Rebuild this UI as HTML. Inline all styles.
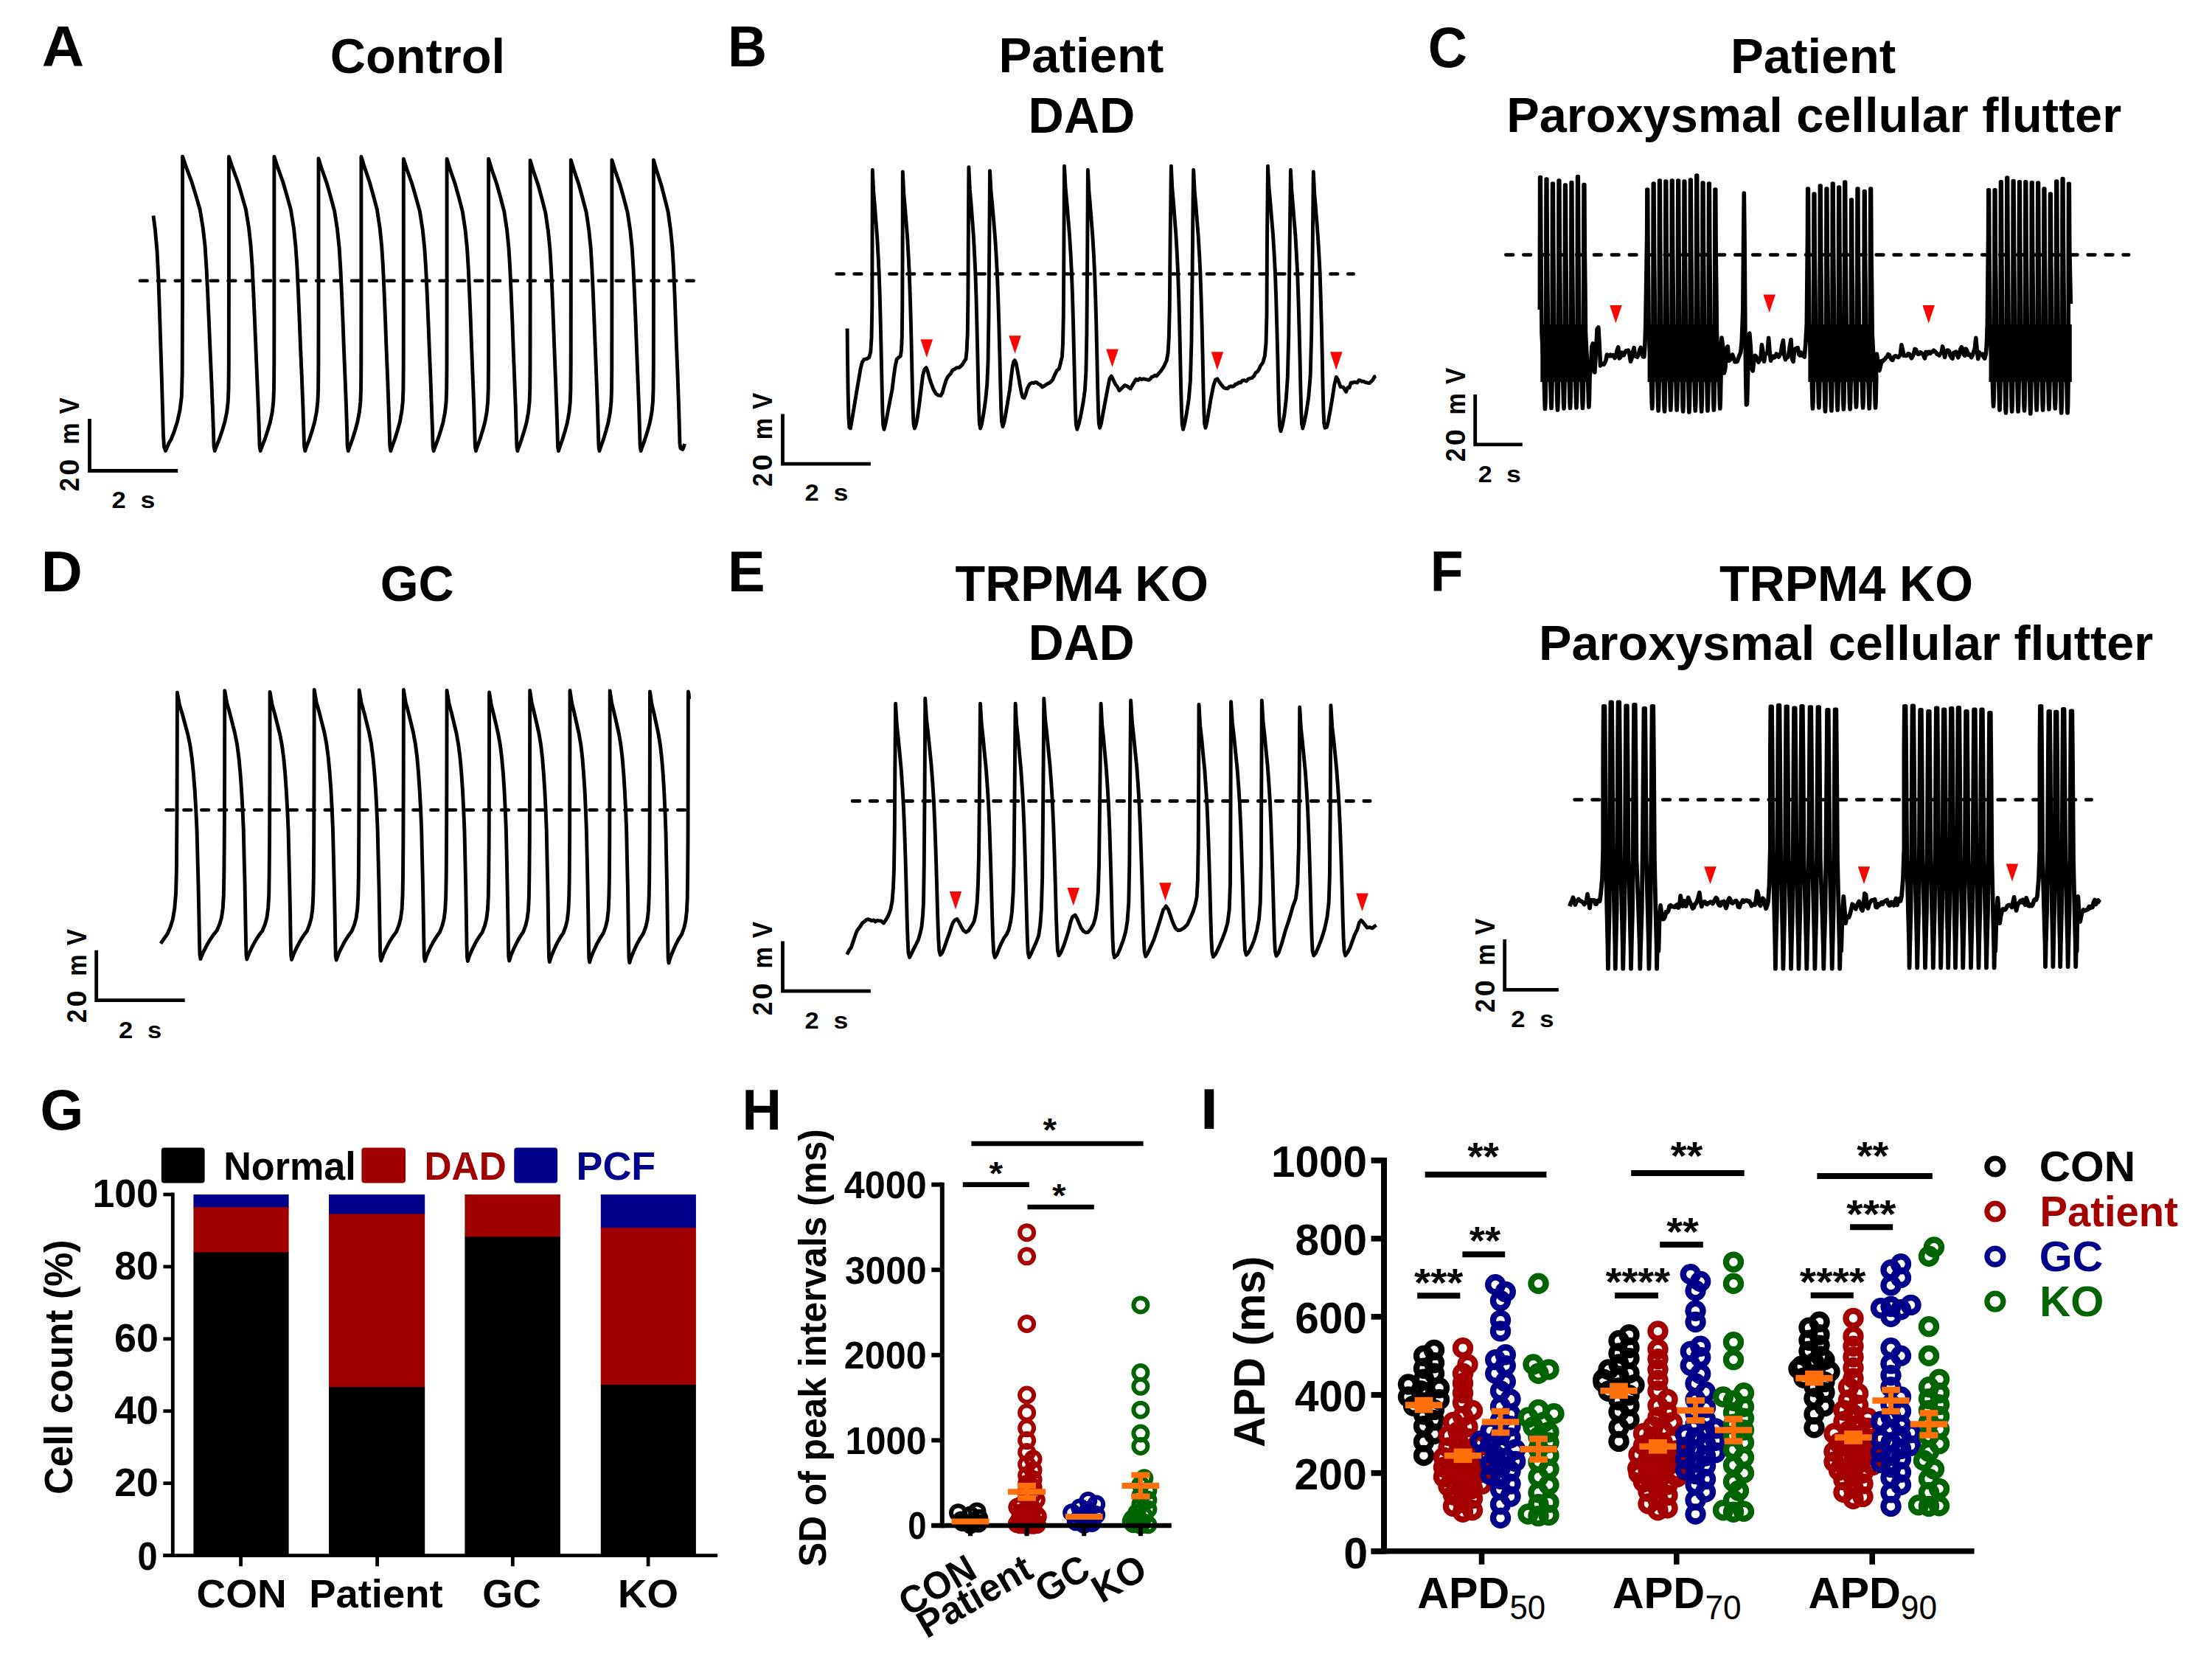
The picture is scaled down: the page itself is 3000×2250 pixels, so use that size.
<!DOCTYPE html>
<html><head><meta charset="utf-8"><title>Figure</title>
<style>
html,body{margin:0;padding:0;background:#fff;}
body{width:3000px;height:2250px;overflow:hidden;}
svg{display:block;font-family:"Liberation Sans",sans-serif;}
</style></head>
<body>
<svg width="3000" height="2250" viewBox="0 0 3000 2250">
<rect x="0" y="0" width="3000" height="2250" fill="#fff"/>
<path d="M208.0 292.5 L210.5 312.0 L213.0 340.0 L215.0 380.0 L217.0 440.0 L219.5 520.0 L221.5 590.0 L222.5 606.0 L224.5 611.5 L226.5 607.0 L229.0 601.0 L232.0 596.0 L236.0 586.0 L240.5 572.0 L244.0 556.0 L246.3 538.0 L247.2 505.0 L247.5 400.0 L247.6 212.3 L247.6 212.3 L252.3 226.2 L260.1 246.9 L265.6 264.9 L271.2 284.2 L275.3 309.2 L278.1 334.1 L279.9 361.8 L281.6 395.1 L283.3 433.8 L284.9 472.6 L286.6 511.3 L288.2 550.1 L289.4 583.2 L290.1 605.4 L291.3 611.5 L292.5 607.8 L294.6 602.7 L297.4 595.7 L301.6 583.2 L304.9 572.2 L307.7 558.4 L309.3 544.5 L310.0 527.9 L310.3 494.6 L310.4 412.0 L310.4 212.5 L310.4 212.5 L315.0 226.4 L322.6 247.0 L328.0 265.1 L333.5 284.4 L337.5 309.3 L340.2 334.3 L342.1 361.9 L343.7 395.2 L345.4 433.9 L347.0 472.6 L348.6 511.4 L350.2 550.1 L351.4 583.2 L352.1 605.4 L353.2 611.5 L354.4 607.8 L356.5 602.7 L359.2 595.7 L363.3 583.2 L366.5 572.3 L369.3 558.4 L370.8 544.5 L371.5 527.9 L371.8 494.7 L371.9 412.1 L371.9 212.5 L371.9 212.5 L376.4 226.4 L383.8 247.0 L389.1 265.1 L394.4 284.4 L398.4 309.3 L401.0 334.3 L402.9 361.9 L404.5 395.2 L406.1 433.9 L407.6 472.6 L409.3 511.4 L410.8 550.1 L411.9 583.2 L412.6 605.4 L413.8 611.5 L414.9 607.8 L416.9 602.7 L419.6 595.7 L423.6 583.2 L426.7 572.3 L429.4 558.4 L430.9 544.5 L431.6 527.9 L431.9 494.7 L432.0 412.1 L432.0 215.0 L432.0 215.0 L436.3 228.8 L443.5 249.3 L448.6 267.3 L453.7 286.4 L457.5 311.2 L460.1 336.0 L461.8 363.5 L463.4 396.5 L465.0 435.0 L466.4 473.5 L468.0 512.0 L469.5 550.5 L470.6 583.4 L471.2 605.4 L472.3 611.5 L473.4 607.8 L475.4 602.8 L477.9 595.8 L481.8 583.4 L484.8 572.5 L487.4 558.7 L488.9 544.9 L489.5 528.5 L489.8 495.4 L489.9 413.4 L489.9 212.5 L489.9 212.5 L494.2 226.4 L501.3 247.0 L506.3 265.1 L511.4 284.4 L515.2 309.3 L517.7 334.3 L519.5 361.9 L521.0 395.2 L522.6 433.9 L524.0 472.6 L525.6 511.4 L527.0 550.1 L528.1 583.2 L528.8 605.4 L529.9 611.5 L531.0 607.8 L532.9 602.7 L535.4 595.7 L539.3 583.2 L542.3 572.3 L544.8 558.4 L546.3 544.5 L546.9 527.9 L547.2 494.7 L547.3 412.1 L547.3 215.5 L547.3 215.5 L551.7 229.3 L559.0 249.8 L564.1 267.7 L569.4 286.8 L573.2 311.6 L575.8 336.4 L577.6 363.8 L579.2 396.8 L580.8 435.2 L582.3 473.7 L583.9 512.1 L585.3 550.6 L586.5 583.5 L587.1 605.5 L588.2 611.5 L589.4 607.8 L591.3 602.8 L593.9 595.8 L597.9 583.5 L601.0 572.6 L603.6 558.8 L605.1 545.0 L605.7 528.6 L606.0 495.6 L606.1 413.6 L606.1 215.5 L606.1 215.5 L610.3 229.3 L617.3 249.8 L622.3 267.7 L627.3 286.8 L631.0 311.6 L633.5 336.4 L635.2 363.8 L636.7 396.8 L638.3 435.2 L639.7 473.7 L641.2 512.1 L642.7 550.6 L643.7 583.5 L644.4 605.5 L645.4 611.5 L646.5 607.8 L648.4 602.8 L650.9 595.8 L654.7 583.5 L657.7 572.6 L660.2 558.8 L661.6 545.0 L662.2 528.6 L662.5 495.6 L662.6 413.6 L662.6 215.5 L662.6 215.5 L666.8 229.3 L673.8 249.8 L678.8 267.7 L683.8 286.8 L687.5 311.6 L690.0 336.4 L691.7 363.8 L693.2 396.8 L694.8 435.2 L696.2 473.7 L697.7 512.1 L699.2 550.6 L700.2 583.5 L700.9 605.5 L701.9 611.5 L703.0 607.8 L704.9 602.8 L707.4 595.8 L711.2 583.5 L714.2 572.6 L716.7 558.8 L718.1 545.0 L718.7 528.6 L719.0 495.6 L719.1 413.6 L719.1 217.5 L719.1 217.5 L723.2 231.2 L730.1 251.6 L734.9 269.4 L739.8 288.5 L743.4 313.1 L745.9 337.8 L747.5 365.1 L749.0 397.9 L750.5 436.1 L751.9 474.4 L753.4 512.6 L754.8 550.9 L755.9 583.6 L756.5 605.5 L757.5 611.5 L758.6 607.9 L760.4 602.8 L762.9 595.9 L766.6 583.6 L769.5 572.8 L771.9 559.1 L773.3 545.4 L773.9 529.0 L774.2 496.2 L774.3 414.6 L774.3 217.0 L774.3 217.0 L778.5 230.7 L785.3 251.1 L790.2 269.0 L795.2 288.1 L798.8 312.7 L801.3 337.4 L802.9 364.8 L804.4 397.6 L805.9 435.9 L807.4 474.2 L808.9 512.5 L810.3 550.8 L811.3 583.6 L812.0 605.5 L813.0 611.5 L814.1 607.8 L815.9 602.8 L818.4 595.9 L822.1 583.6 L825.0 572.7 L827.5 559.0 L828.9 545.3 L829.5 528.9 L829.8 496.0 L829.9 414.4 L829.9 217.0 L829.9 217.0 L834.1 230.7 L841.1 251.1 L846.1 269.0 L851.1 288.1 L854.8 312.7 L857.3 337.4 L859.0 364.8 L860.5 397.6 L862.1 435.9 L863.5 474.2 L865.0 512.5 L866.5 550.8 L867.5 583.6 L868.2 605.5 L869.2 611.5 L870.3 607.8 L872.2 602.8 L874.7 595.9 L878.5 583.6 L881.5 572.7 L884.0 559.0 L885.4 545.3 L886.0 528.9 L886.3 496.0 L886.4 414.4 L886.4 217.0 L886.4 217.0 L890.3 230.6 L896.8 250.8 L901.4 268.6 L906.1 287.4 L909.5 311.9 L911.9 336.3 L913.5 363.4 L914.9 396.0 L916.3 434.0 L917.6 471.9 L919.1 509.9 L920.4 547.8 L921.4 580.3 L922.0 602.0 L923.0 608.0 L926.0 609.5 L928.0 604.0 L928.5 602.0" fill="none" stroke="#000" stroke-width="4.9" stroke-linejoin="round" stroke-linecap="butt" />
<line x1="189.9" y1="380.7" x2="940.7" y2="380.7" stroke="#000" stroke-width="4.6" stroke-dasharray="9.8 14.12" stroke-linecap="round"/>
<path d="M121.5 568.1 L121.5 638.5 L241.2 638.5" fill="none" stroke="#000" stroke-width="4.8" stroke-linejoin="miter" stroke-linecap="butt" />
<path d="M1149.1 445.6 L1149.4 478.5 L1150.1 529.1 L1150.9 564.6 L1151.9 579.7 L1153.4 581.0 L1155.4 569.6 L1158.0 554.4 L1161.3 534.2 L1164.3 516.5 L1167.1 500.0 L1169.4 491.1 L1171.9 487.3 L1175.7 486.6 L1178.7 484.8 L1180.8 477.2 L1182.0 458.2 L1182.8 415.2 L1183.0 326.6 L1183.3 230.4 L1184.7 259.9 L1186.3 277.9 L1188.0 300.8 L1189.6 321.2 L1191.0 346.5 L1192.2 371.1 L1193.3 402.8 L1194.3 441.5 L1195.3 485.5 L1196.2 527.0 L1196.9 557.6 L1197.7 575.9 L1199.0 582.3 L1201.0 574.7 L1203.5 562.0 L1207.3 541.8 L1209.9 529.1 L1212.4 508.9 L1214.2 496.2 L1216.2 487.3 L1218.7 484.8 L1221.3 483.0 L1222.5 474.7 L1223.3 458.2 L1223.8 415.2 L1224.1 326.6 L1224.3 232.9 L1225.7 262.2 L1227.3 279.9 L1229.1 302.5 L1230.7 322.7 L1232.1 347.8 L1233.3 372.2 L1234.4 403.5 L1235.5 441.8 L1236.5 485.3 L1237.4 526.4 L1238.2 556.6 L1239.0 574.7 L1240.3 581.0 L1242.3 575.9 L1244.1 567.1 L1246.6 549.4 L1249.1 529.1 L1251.6 508.9 L1253.7 501.3 L1256.2 498.7 L1258.2 503.8 L1260.5 512.7 L1263.0 520.1 L1265.6 527.2 L1269.4 534.0 L1272.7 536.1 L1275.7 536.7 L1278.2 532.4 L1280.8 523.2 L1283.3 515.2 L1285.8 510.5 L1289.1 507.1 L1292.2 501.5 L1294.7 500.8 L1297.2 498.9 L1301.0 498.3 L1304.8 494.9 L1307.8 489.9 L1309.9 487.3 L1311.1 475.9 L1312.2 453.2 L1312.9 402.5 L1313.4 301.3 L1313.9 226.6 L1315.3 256.4 L1316.9 274.4 L1318.6 297.5 L1320.2 318.0 L1321.6 343.5 L1322.8 368.4 L1323.9 400.3 L1324.9 439.2 L1325.9 483.5 L1326.8 525.4 L1327.6 556.2 L1328.4 574.6 L1329.6 581.0 L1331.6 574.7 L1334.2 559.5 L1336.7 541.8 L1338.7 521.5 L1340.0 491.1 L1341.0 427.8 L1341.8 326.6 L1342.5 231.6 L1344.1 260.8 L1345.9 278.5 L1347.8 301.0 L1349.5 321.1 L1351.1 346.1 L1352.4 370.4 L1353.6 401.6 L1354.8 439.7 L1355.9 483.1 L1356.9 524.0 L1357.7 554.2 L1358.6 572.2 L1360.0 578.5 L1362.0 572.2 L1364.3 559.5 L1366.8 544.3 L1369.4 529.1 L1371.4 511.4 L1373.2 497.5 L1374.7 490.6 L1376.2 488.6 L1378.0 492.4 L1379.5 500.0 L1381.3 510.1 L1383.3 522.0 L1385.3 532.9 L1387.1 538.7 L1388.9 539.7 L1390.9 535.4 L1393.4 526.6 L1396.5 520.9 L1399.7 519.0 L1401.9 519.6 L1404.0 518.5 L1406.1 518.7 L1408.6 521.1 L1411.1 522.1 L1413.7 525.0 L1416.2 523.4 L1418.7 521.8 L1421.3 520.2 L1423.8 519.0 L1427.6 515.3 L1430.1 509.2 L1433.4 502.7 L1436.5 500.0 L1439.0 489.7 L1440.5 483.5 L1441.5 465.8 L1442.3 427.8 L1442.8 351.9 L1443.5 225.3 L1445.1 255.3 L1446.8 273.5 L1448.7 296.7 L1450.4 317.4 L1452.0 343.1 L1453.3 368.1 L1454.5 400.2 L1455.6 439.5 L1456.7 484.1 L1457.7 526.2 L1458.5 557.3 L1459.4 575.9 L1460.8 582.3 L1463.3 574.7 L1465.8 563.3 L1468.9 546.8 L1471.4 529.1 L1472.9 503.8 L1473.9 453.2 L1474.7 351.9 L1475.4 230.4 L1476.9 259.8 L1478.5 277.6 L1480.3 300.4 L1481.9 320.6 L1483.4 345.8 L1484.6 370.3 L1485.7 401.8 L1486.8 440.3 L1487.8 484.0 L1488.7 525.3 L1489.5 555.8 L1490.3 574.0 L1491.6 580.3 L1493.4 574.7 L1495.7 562.0 L1499.0 544.3 L1502.3 526.6 L1504.8 513.9 L1507.3 510.1 L1509.9 515.2 L1512.9 521.5 L1515.4 524.5 L1518.0 529.7 L1521.8 525.9 L1525.6 522.6 L1529.4 524.3 L1533.2 527.0 L1537.0 520.4 L1540.8 514.3 L1543.3 515.7 L1545.8 513.5 L1548.4 514.5 L1550.9 513.8 L1553.4 514.3 L1555.9 515.0 L1558.1 515.4 L1560.2 513.8 L1562.3 511.1 L1564.4 510.7 L1566.5 509.0 L1568.6 510.0 L1571.4 506.7 L1574.2 503.5 L1576.5 500.2 L1578.7 496.5 L1582.3 488.8 L1584.1 478.5 L1585.3 458.2 L1586.3 415.2 L1587.1 326.6 L1588.4 225.3 L1589.8 255.3 L1591.4 273.5 L1593.2 296.7 L1594.8 317.4 L1596.3 343.1 L1597.5 368.1 L1598.6 400.2 L1599.7 439.5 L1600.7 484.1 L1601.6 526.2 L1602.5 557.3 L1603.3 575.9 L1604.6 582.3 L1606.6 574.7 L1609.1 562.0 L1612.2 541.8 L1614.4 516.5 L1615.9 465.8 L1617.0 377.2 L1618.0 275.9 L1618.7 230.4 L1620.2 259.8 L1621.8 277.6 L1623.6 300.4 L1625.2 320.6 L1626.7 345.8 L1627.9 370.3 L1629.0 401.8 L1630.1 440.3 L1631.1 484.0 L1632.0 525.3 L1632.8 555.8 L1633.6 574.0 L1634.9 580.3 L1637.0 572.2 L1639.5 557.0 L1642.5 539.2 L1645.8 522.8 L1648.4 515.2 L1650.9 513.9 L1653.4 517.7 L1657.2 522.8 L1659.7 525.7 L1662.3 526.6 L1664.8 527.1 L1667.3 524.6 L1669.5 523.7 L1671.6 524.4 L1673.7 523.3 L1675.8 520.9 L1677.9 520.8 L1680.0 518.7 L1682.5 519.0 L1685.1 516.1 L1687.6 515.6 L1690.1 516.9 L1692.7 514.3 L1695.2 513.2 L1698.0 512.6 L1700.8 509.8 L1703.0 505.5 L1705.3 504.0 L1707.3 501.2 L1709.4 496.4 L1712.9 491.6 L1715.4 482.3 L1717.0 465.8 L1718.0 427.8 L1718.5 326.6 L1719.5 225.3 L1721.1 255.5 L1722.8 273.8 L1724.7 297.2 L1726.5 318.1 L1728.1 343.9 L1729.4 369.1 L1730.6 401.5 L1731.7 441.0 L1732.9 485.9 L1733.8 528.4 L1734.7 559.6 L1735.6 578.3 L1737.0 584.8 L1739.2 577.2 L1741.8 563.3 L1744.3 541.8 L1746.3 511.4 L1747.8 453.2 L1748.9 351.9 L1750.4 230.4 L1751.9 259.8 L1753.5 277.7 L1755.3 300.5 L1757.0 320.8 L1758.4 346.1 L1759.7 370.6 L1760.8 402.2 L1761.9 440.8 L1763.0 484.6 L1763.9 526.0 L1764.7 556.5 L1765.5 574.7 L1766.8 581.0 L1769.1 572.2 L1771.6 559.5 L1774.7 539.2 L1777.2 508.9 L1778.7 453.2 L1780.0 351.9 L1781.3 232.9 L1782.7 262.1 L1784.2 279.8 L1786.0 302.4 L1787.5 322.5 L1789.0 347.5 L1790.2 371.8 L1791.2 403.1 L1792.3 441.3 L1793.3 484.7 L1794.1 525.7 L1794.9 555.9 L1795.7 574.0 L1797.0 580.3 L1799.5 579.2 L1801.5 570.9 L1804.1 557.0 L1807.1 539.2 L1809.6 522.8 L1812.2 511.4 L1814.7 515.2 L1818.0 524.6 L1821.8 525.1 L1825.6 531.3 L1827.7 525.8 L1829.9 526.0 L1832.2 519.0 L1834.4 519.2 L1836.5 518.2 L1838.6 518.6 L1840.8 519.0 L1842.9 515.8 L1845.0 516.0 L1847.1 517.3 L1849.4 517.1 L1851.6 518.5 L1854.7 519.2 L1857.2 519.5 L1859.7 517.4 L1861.9 515.2 L1864.0 511.0 L1866.1 510.1" fill="none" stroke="#000" stroke-width="4.9" stroke-linejoin="round" stroke-linecap="butt" />
<line x1="1134.6" y1="371.5" x2="1835.7" y2="371.5" stroke="#000" stroke-width="4.6" stroke-dasharray="9.8 14.12" stroke-linecap="round"/>
<path d="M1061.5 561.5 L1061.5 629.2 L1180.9 629.2" fill="none" stroke="#000" stroke-width="4.8" stroke-linejoin="miter" stroke-linecap="butt" />
<path d="M1248.5 460.3 L1265.0 460.3 L1256.8 484.9 Z" fill="#fa0500"/>
<path d="M1368.3 455.2 L1384.8 455.2 L1376.6 479.8 Z" fill="#fa0500"/>
<path d="M1500.2 473.4 L1516.8 473.4 L1508.5 498.0 Z" fill="#fa0500"/>
<path d="M1642.7 477.2 L1659.2 477.2 L1650.9 501.8 Z" fill="#fa0500"/>
<path d="M1804.0 477.2 L1820.5 477.2 L1812.2 501.8 Z" fill="#fa0500"/>
<rect x="2089.30" y="440.00" width="63.00" height="78.00" fill="#000"/>
<rect x="2234.60" y="440.00" width="95.57" height="78.00" fill="#000"/>
<rect x="2452.40" y="440.00" width="88.60" height="78.00" fill="#000"/>
<rect x="2697.50" y="440.00" width="112.31" height="78.00" fill="#000"/>
<path d="M2088.3 420.0 L2088.6 240.5 L2089.3 240.5 L2089.8 330.5 L2090.4 392.0 L2091.0 452.0 L2093.1 491.0 L2094.4 522.0 L2095.1 548.5 L2095.5 554.5 L2096.0 544.5 L2096.7 510.0 L2096.9 303.0 L2097.1 243.0 L2097.8 243.0 L2098.3 333.0 L2098.9 392.0 L2099.5 452.0 L2101.6 491.0 L2102.9 522.0 L2103.6 547.5 L2104.0 553.5 L2104.5 543.5 L2105.2 510.0 L2105.4 309.0 L2105.6 249.0 L2106.3 249.0 L2106.8 339.0 L2107.4 392.0 L2108.0 452.0 L2110.1 491.0 L2111.4 522.0 L2112.1 550.0 L2112.5 556.0 L2113.0 546.0 L2113.7 510.0 L2113.9 305.0 L2114.1 245.0 L2114.8 245.0 L2115.3 335.0 L2115.9 392.0 L2116.5 452.0 L2118.6 491.0 L2119.9 522.0 L2120.6 548.0 L2121.0 554.0 L2121.5 544.0 L2122.2 510.0 L2122.4 311.0 L2122.6 251.0 L2123.3 251.0 L2123.8 341.0 L2124.4 392.0 L2125.0 452.0 L2127.1 491.0 L2128.4 522.0 L2129.1 547.5 L2129.5 553.5 L2130.0 543.5 L2130.7 510.0 L2130.9 307.5 L2131.1 247.5 L2131.8 247.5 L2132.3 337.5 L2132.9 392.0 L2133.5 452.0 L2135.6 491.0 L2136.9 522.0 L2137.6 547.0 L2138.0 553.0 L2138.5 543.0 L2139.2 510.0 L2139.4 299.5 L2139.6 239.5 L2140.3 239.5 L2140.8 329.5 L2141.4 392.0 L2142.0 452.0 L2144.1 491.0 L2145.4 522.0 L2146.1 547.5 L2146.5 553.5 L2147.0 543.5 L2147.7 510.0 L2147.9 310.5 L2148.1 250.5 L2148.8 250.5 L2149.3 340.5 L2149.9 392.0 L2150.5 452.0 L2152.5 491.0 L2153.8 522.0 L2154.5 546.0 L2154.9 552.0 L2155.4 542.0 L2156.1 510.0 L2157.5 500.0 L2158.8 470.0 L2160.3 466.0 L2161.8 500.0 L2162.8 505.0 L2164.3 480.0 L2166.1 446.0 L2167.8 444.0 L2169.3 470.0 L2170.6 496.0 L2171.8 493.7 L2173.3 493.2 L2174.9 494.3 L2176.4 492.1 L2177.9 488.8 L2179.4 481.0 L2181.0 482.2 L2182.5 482.8 L2184.0 481.3 L2185.5 482.9 L2187.1 481.6 L2188.6 481.5 L2190.1 485.5 L2191.6 482.7 L2193.2 475.2 L2194.7 470.9 L2196.2 485.9 L2197.7 484.6 L2199.3 478.2 L2200.8 478.5 L2202.3 481.8 L2203.9 477.6 L2205.4 475.7 L2206.9 476.5 L2208.4 475.1 L2210.0 481.1 L2211.5 490.2 L2213.0 486.1 L2214.5 477.1 L2216.1 471.7 L2217.6 483.1 L2219.1 482.0 L2220.6 484.3 L2222.2 481.1 L2223.7 474.7 L2225.2 471.3 L2226.7 478.2 L2228.3 483.8 L2229.8 483.9 L2230.8 470.0 L2231.8 440.0 L2233.7 317.0 L2233.9 257.0 L2234.6 257.0 L2235.1 347.0 L2235.7 392.0 L2236.3 452.0 L2238.3 491.0 L2239.6 522.0 L2240.3 548.0 L2240.7 554.0 L2241.2 544.0 L2241.9 510.0 L2242.1 309.0 L2242.3 249.0 L2243.0 249.0 L2243.5 339.0 L2244.1 392.0 L2244.7 452.0 L2246.7 491.0 L2248.0 522.0 L2248.7 551.0 L2249.1 557.0 L2249.6 547.0 L2250.3 510.0 L2250.4 305.0 L2250.6 245.0 L2251.3 245.0 L2251.8 335.0 L2252.4 392.0 L2253.0 452.0 L2255.0 491.0 L2256.4 522.0 L2257.0 552.0 L2257.5 558.0 L2258.0 548.0 L2258.6 510.0 L2258.8 306.0 L2259.0 246.0 L2259.7 246.0 L2260.2 336.0 L2260.8 392.0 L2261.4 452.0 L2263.4 491.0 L2264.7 522.0 L2265.4 550.0 L2265.8 556.0 L2266.3 546.0 L2267.0 510.0 L2267.2 305.0 L2267.4 245.0 L2268.1 245.0 L2268.6 335.0 L2269.2 392.0 L2269.8 452.0 L2271.8 491.0 L2273.1 522.0 L2273.8 550.0 L2274.2 556.0 L2274.7 546.0 L2275.4 510.0 L2275.6 305.0 L2275.8 245.0 L2276.5 245.0 L2277.0 335.0 L2277.6 392.0 L2278.2 452.0 L2280.1 491.0 L2281.5 522.0 L2282.1 552.0 L2282.6 558.0 L2283.1 548.0 L2283.7 510.0 L2283.9 306.0 L2284.1 246.0 L2284.8 246.0 L2285.3 336.0 L2285.9 392.0 L2286.5 452.0 L2288.5 491.0 L2289.8 522.0 L2290.5 553.0 L2290.9 559.0 L2291.4 549.0 L2292.1 510.0 L2292.3 304.0 L2292.5 244.0 L2293.2 244.0 L2293.7 334.0 L2294.3 392.0 L2294.9 452.0 L2296.9 491.0 L2298.2 522.0 L2298.9 551.0 L2299.3 557.0 L2299.8 547.0 L2300.5 510.0 L2300.7 298.0 L2300.9 238.0 L2301.6 238.0 L2302.1 328.0 L2302.7 392.0 L2303.3 452.0 L2305.2 491.0 L2306.6 522.0 L2307.3 552.0 L2307.7 558.0 L2308.2 548.0 L2308.8 510.0 L2309.0 308.0 L2309.2 248.0 L2309.9 248.0 L2310.4 338.0 L2311.0 392.0 L2311.6 452.0 L2313.6 491.0 L2315.0 522.0 L2315.6 551.0 L2316.0 557.0 L2316.5 547.0 L2317.2 510.0 L2317.4 309.0 L2317.6 249.0 L2318.3 249.0 L2318.8 339.0 L2319.4 392.0 L2320.0 452.0 L2322.0 491.0 L2323.3 522.0 L2324.0 550.0 L2324.4 556.0 L2324.9 546.0 L2325.6 510.0 L2325.8 317.0 L2326.0 257.0 L2326.7 257.0 L2327.2 347.0 L2327.8 392.0 L2328.4 452.0 L2330.4 491.0 L2331.7 522.0 L2332.4 548.0 L2332.8 554.0 L2333.3 544.0 L2334.0 510.0 L2333.8 480.0 L2335.1 458.0 L2336.6 470.0 L2338.3 506.0 L2339.8 500.0 L2341.8 472.0 L2343.3 470.0 L2344.8 489.2 L2346.4 488.0 L2348.0 485.8 L2349.6 481.0 L2351.2 485.0 L2352.9 490.7 L2354.5 490.8 L2356.1 490.2 L2357.7 485.8 L2359.3 481.3 L2360.8 478.0 L2362.3 462.0 L2363.8 420.0 L2364.6 330.0 L2365.3 262.0 L2366.1 330.0 L2366.9 450.0 L2367.8 520.0 L2368.5 549.0 L2369.5 548.0 L2370.5 510.0 L2371.5 470.0 L2372.8 452.0 L2374.3 470.0 L2375.8 500.0 L2377.3 503.0 L2378.8 488.0 L2380.3 482.3 L2381.8 483.4 L2383.3 487.6 L2384.9 491.2 L2386.4 488.2 L2387.9 486.7 L2389.4 467.6 L2391.0 477.1 L2392.5 490.3 L2394.0 480.6 L2395.5 479.7 L2397.1 479.3 L2398.6 458.3 L2400.1 476.4 L2401.6 489.3 L2403.1 484.1 L2404.7 483.2 L2406.2 485.1 L2407.7 483.3 L2409.2 480.0 L2410.8 482.4 L2412.3 484.1 L2413.8 481.6 L2415.3 478.5 L2416.8 469.2 L2418.4 461.8 L2419.9 481.3 L2421.4 487.7 L2422.9 484.9 L2424.5 484.8 L2426.0 479.8 L2427.5 469.0 L2429.0 460.8 L2430.6 486.9 L2432.1 490.4 L2433.6 474.9 L2435.1 473.0 L2436.6 472.1 L2438.2 471.7 L2439.7 480.5 L2441.2 482.0 L2442.7 478.1 L2444.3 481.9 L2445.8 482.9 L2447.3 484.1 L2448.8 466.0 L2450.3 440.0 L2451.5 316.0 L2451.7 256.0 L2452.4 256.0 L2452.9 346.0 L2453.5 392.0 L2454.1 452.0 L2456.1 491.0 L2457.4 522.0 L2458.1 548.0 L2458.5 554.0 L2459.0 544.0 L2459.7 510.0 L2459.9 323.0 L2460.1 263.0 L2460.8 263.0 L2461.3 353.0 L2461.9 392.0 L2462.5 452.0 L2464.5 491.0 L2465.8 522.0 L2466.4 547.0 L2466.9 553.0 L2467.4 543.0 L2468.0 510.0 L2468.2 312.0 L2468.4 252.0 L2469.1 252.0 L2469.6 342.0 L2470.2 392.0 L2470.8 452.0 L2473.0 491.0 L2474.3 522.0 L2475.0 552.0 L2475.5 558.0 L2476.0 548.0 L2476.7 510.0 L2476.9 316.0 L2477.1 256.0 L2477.8 256.0 L2478.3 346.0 L2478.9 392.0 L2479.5 452.0 L2481.5 491.0 L2482.8 522.0 L2483.4 551.0 L2483.9 557.0 L2484.4 547.0 L2485.0 510.0 L2485.2 309.0 L2485.4 249.0 L2486.1 249.0 L2486.6 339.0 L2487.2 392.0 L2487.8 452.0 L2489.8 491.0 L2491.1 522.0 L2491.8 550.0 L2492.2 556.0 L2492.7 546.0 L2493.4 510.0 L2493.6 314.0 L2493.8 254.0 L2494.5 254.0 L2495.0 344.0 L2495.6 392.0 L2496.2 452.0 L2498.1 491.0 L2499.3 522.0 L2500.0 549.0 L2500.4 555.0 L2500.9 545.0 L2501.5 510.0 L2501.7 307.0 L2501.9 247.0 L2502.6 247.0 L2503.1 337.0 L2503.7 392.0 L2504.3 452.0 L2506.5 491.0 L2507.9 522.0 L2508.6 549.0 L2509.1 555.0 L2509.6 545.0 L2510.3 510.0 L2510.5 331.0 L2510.7 271.0 L2511.4 271.0 L2511.9 361.0 L2512.5 392.0 L2513.1 452.0 L2515.1 491.0 L2516.4 522.0 L2517.1 546.0 L2517.5 552.0 L2518.0 542.0 L2518.7 510.0 L2518.9 316.0 L2519.1 256.0 L2519.8 256.0 L2520.3 346.0 L2520.9 392.0 L2521.5 452.0 L2524.0 491.0 L2525.4 522.0 L2526.2 547.0 L2526.6 553.0 L2527.2 543.0 L2527.9 510.0 L2528.2 319.5 L2528.4 259.5 L2529.1 259.5 L2529.6 349.5 L2530.2 392.0 L2530.8 452.0 L2532.8 491.0 L2534.1 522.0 L2534.8 548.0 L2535.2 554.0 L2535.7 544.0 L2536.4 510.0 L2536.6 316.0 L2536.8 256.0 L2537.5 256.0 L2538.0 346.0 L2538.6 392.0 L2539.2 452.0 L2541.2 491.0 L2542.5 522.0 L2543.2 547.0 L2543.6 553.0 L2544.1 543.0 L2544.8 510.0 L2543.8 500.0 L2545.3 480.0 L2547.3 492.0 L2548.8 502.7 L2550.3 497.5 L2551.8 489.7 L2553.3 490.1 L2554.8 487.9 L2556.3 487.5 L2557.8 484.8 L2559.3 483.9 L2560.8 480.5 L2562.3 481.6 L2563.9 485.2 L2565.4 487.8 L2566.9 488.3 L2568.4 484.4 L2569.9 483.0 L2571.4 482.9 L2572.9 483.8 L2574.4 484.7 L2575.9 483.0 L2577.4 480.4 L2578.9 467.9 L2580.4 474.2 L2581.9 482.3 L2583.4 481.8 L2584.9 482.7 L2586.4 482.2 L2587.9 479.8 L2589.4 480.0 L2590.9 482.6 L2592.5 485.7 L2594.0 483.2 L2595.5 479.8 L2597.0 473.4 L2598.5 474.0 L2600.0 478.7 L2601.5 480.5 L2603.0 479.9 L2604.5 477.7 L2606.0 478.8 L2607.5 480.1 L2609.0 482.4 L2610.5 486.0 L2612.0 477.4 L2613.5 480.7 L2615.0 477.4 L2616.5 477.3 L2618.0 479.2 L2619.5 477.2 L2621.1 477.1 L2622.6 475.2 L2624.1 476.4 L2625.6 477.8 L2627.1 480.3 L2628.6 480.9 L2630.1 482.0 L2631.6 479.5 L2633.1 478.5 L2634.6 469.9 L2636.1 476.6 L2637.6 484.5 L2639.1 477.2 L2640.6 475.3 L2642.1 475.1 L2643.6 476.4 L2645.1 482.5 L2646.6 485.2 L2648.1 486.2 L2649.6 478.4 L2651.2 478.2 L2652.7 477.2 L2654.2 480.9 L2655.7 484.8 L2657.2 481.5 L2658.7 473.9 L2660.2 470.8 L2661.7 472.5 L2663.2 480.7 L2664.7 482.4 L2666.2 473.2 L2667.7 475.4 L2669.2 481.3 L2670.7 480.2 L2672.2 482.5 L2673.7 484.7 L2675.2 481.9 L2676.7 477.4 L2678.2 473.1 L2679.8 458.4 L2681.3 475.9 L2682.8 486.8 L2684.3 477.7 L2685.8 480.6 L2687.3 481.5 L2688.8 480.1 L2690.3 484.3 L2691.8 486.1 L2693.3 480.6 L2694.3 468.0 L2695.3 440.0 L2696.6 317.7 L2696.8 257.7 L2697.5 257.7 L2698.0 347.7 L2698.6 392.0 L2699.2 452.0 L2701.2 491.0 L2702.5 522.0 L2703.2 545.0 L2703.6 551.0 L2704.1 541.0 L2704.8 510.0 L2705.0 317.7 L2705.2 257.7 L2705.9 257.7 L2706.4 347.7 L2707.0 392.0 L2707.6 452.0 L2709.6 491.0 L2710.9 522.0 L2711.6 550.0 L2712.0 556.0 L2712.5 546.0 L2713.2 510.0 L2713.3 306.8 L2713.5 246.8 L2714.2 246.8 L2714.7 336.8 L2715.3 392.0 L2715.9 452.0 L2717.9 491.0 L2719.3 522.0 L2719.9 554.0 L2720.4 560.0 L2720.9 550.0 L2721.5 510.0 L2721.7 301.0 L2721.9 241.0 L2722.6 241.0 L2723.1 331.0 L2723.7 392.0 L2724.3 452.0 L2726.3 491.0 L2727.6 522.0 L2728.3 552.0 L2728.7 558.0 L2729.2 548.0 L2729.9 510.0 L2730.1 305.6 L2730.3 245.6 L2731.0 245.6 L2731.5 335.6 L2732.1 392.0 L2732.7 452.0 L2734.7 491.0 L2736.0 522.0 L2736.7 552.0 L2737.1 558.0 L2737.6 548.0 L2738.3 510.0 L2738.4 306.8 L2738.7 246.8 L2739.3 246.8 L2739.8 336.8 L2740.4 392.0 L2741.0 452.0 L2743.0 491.0 L2744.4 522.0 L2745.0 551.0 L2745.5 557.0 L2746.0 547.0 L2746.6 510.0 L2746.8 306.8 L2747.0 246.8 L2747.7 246.8 L2748.2 336.8 L2748.8 392.0 L2749.4 452.0 L2751.4 491.0 L2752.7 522.0 L2753.4 555.0 L2753.8 561.0 L2754.3 551.0 L2755.0 510.0 L2755.2 307.6 L2755.4 247.6 L2756.1 247.6 L2756.6 337.6 L2757.2 392.0 L2757.8 452.0 L2759.8 491.0 L2761.1 522.0 L2761.8 550.0 L2762.2 556.0 L2762.7 546.0 L2763.4 510.0 L2763.6 308.0 L2763.8 248.0 L2764.5 248.0 L2765.0 338.0 L2765.6 392.0 L2766.2 452.0 L2768.1 491.0 L2769.5 522.0 L2770.2 550.0 L2770.6 556.0 L2771.1 546.0 L2771.7 510.0 L2771.9 316.0 L2772.1 256.0 L2772.8 256.0 L2773.3 346.0 L2773.9 392.0 L2774.5 452.0 L2776.5 491.0 L2777.9 522.0 L2778.5 549.0 L2778.9 555.0 L2779.4 545.0 L2780.1 510.0 L2780.3 323.0 L2780.5 263.0 L2781.2 263.0 L2781.7 353.0 L2782.3 392.0 L2782.9 452.0 L2784.9 491.0 L2786.2 522.0 L2786.9 548.0 L2787.3 554.0 L2787.8 544.0 L2788.5 510.0 L2788.7 306.0 L2788.9 246.0 L2789.6 246.0 L2790.1 336.0 L2790.7 392.0 L2791.3 452.0 L2793.3 491.0 L2794.6 522.0 L2795.3 554.0 L2795.7 560.0 L2796.2 550.0 L2796.9 510.0 L2797.0 302.5 L2797.2 242.5 L2797.9 242.5 L2798.4 332.5 L2799.0 392.0 L2799.6 452.0 L2801.6 491.0 L2803.0 522.0 L2803.6 554.0 L2804.1 560.0 L2804.6 550.0 L2805.2 510.0 L2805.4 309.4 L2805.6 249.4 L2806.3 249.4 L2806.8 339.4 L2808.4 412.0" fill="none" stroke="#000" stroke-width="5.6" stroke-linejoin="round" stroke-linecap="butt" />
<line x1="2042.3" y1="345.6" x2="2887.2" y2="345.6" stroke="#000" stroke-width="4.6" stroke-dasharray="9.8 14.12" stroke-linecap="round"/>
<path d="M2000.7 535.0 L2000.7 602.8 L2064.8 602.8" fill="none" stroke="#000" stroke-width="4.8" stroke-linejoin="miter" stroke-linecap="butt" />
<path d="M2183.2 413.9 L2199.7 413.9 L2191.4 438.3 Z" fill="#fa0500"/>
<path d="M2391.4 399.5 L2407.9 399.5 L2399.7 423.9 Z" fill="#fa0500"/>
<path d="M2607.4 414.0 L2623.9 414.0 L2615.7 438.4 Z" fill="#fa0500"/>
<path d="M217.9 1279.6 L221.8 1274.0 L226.8 1267.0 L230.8 1258.0 L234.3 1247.0 L236.8 1232.0 L238.5 1212.0 L239.4 1180.0 L240.0 1100.0 L240.3 1000.0 L240.4 939.1 L240.4 939.1 L243.4 955.6 L247.2 968.2 L251.0 982.1 L254.8 996.1 L257.9 1011.3 L260.4 1029.0 L262.4 1049.2 L264.2 1072.0 L265.7 1097.3 L267.0 1125.2 L268.0 1163.2 L269.0 1201.2 L269.8 1239.2 L270.5 1277.2 L271.0 1294.9 L272.0 1300.5 L273.3 1297.2 L275.2 1292.4 L279.0 1284.8 L284.0 1275.9 L289.1 1268.3 L294.2 1262.0 L298.0 1253.1 L300.5 1244.2 L302.3 1231.6 L303.3 1213.9 L303.8 1188.6 L304.3 1137.9 L304.6 1061.9 L304.8 936.6 L304.8 936.6 L307.7 953.2 L311.3 965.9 L314.9 980.0 L318.5 994.1 L321.5 1009.4 L323.9 1027.3 L325.8 1047.6 L327.5 1070.6 L328.9 1096.2 L330.2 1124.2 L331.1 1162.5 L332.1 1200.8 L332.8 1239.2 L333.5 1277.5 L334.0 1295.4 L334.9 1301.0 L336.1 1297.7 L337.9 1292.8 L341.5 1285.2 L346.3 1276.2 L351.1 1268.5 L356.0 1262.2 L359.6 1253.2 L362.0 1244.2 L363.7 1231.5 L364.7 1213.7 L365.1 1188.1 L365.6 1137.0 L365.9 1060.5 L366.1 938.5 L366.1 938.5 L368.9 955.1 L372.5 967.7 L376.0 981.7 L379.6 995.8 L382.5 1011.0 L384.8 1028.8 L386.7 1049.1 L388.3 1072.0 L389.7 1097.4 L391.0 1125.4 L391.9 1163.6 L392.8 1201.7 L393.6 1239.9 L394.2 1278.1 L394.7 1295.9 L395.6 1301.5 L396.8 1298.2 L398.5 1293.4 L402.1 1285.7 L406.8 1276.8 L411.5 1269.1 L416.3 1262.8 L419.8 1253.9 L422.2 1244.9 L423.9 1232.3 L424.8 1214.5 L425.3 1189.1 L425.7 1138.1 L426.0 1061.9 L426.2 935.5 L426.2 935.5 L429.0 952.2 L432.7 965.0 L436.3 979.1 L439.9 993.3 L442.8 1008.7 L445.2 1026.7 L447.1 1047.2 L448.8 1070.3 L450.2 1096.0 L451.4 1124.2 L452.4 1162.7 L453.3 1201.3 L454.1 1239.8 L454.8 1278.4 L455.2 1296.3 L456.2 1302.0 L457.3 1298.7 L459.1 1293.8 L462.7 1286.1 L467.5 1277.0 L472.3 1269.3 L477.1 1262.9 L480.7 1253.9 L483.1 1244.9 L484.8 1232.1 L485.8 1214.2 L486.3 1188.5 L486.7 1137.1 L487.0 1060.1 L487.2 936.0 L487.2 936.0 L490.0 952.8 L493.6 965.6 L497.1 979.7 L500.7 993.9 L503.6 1009.3 L505.9 1027.3 L507.8 1047.8 L509.5 1071.0 L510.9 1096.7 L512.1 1124.9 L513.0 1163.5 L514.0 1202.1 L514.7 1240.7 L515.4 1279.3 L515.8 1297.3 L516.8 1303.0 L517.9 1299.6 L519.7 1294.8 L523.2 1287.1 L527.9 1278.0 L532.7 1270.3 L537.5 1263.9 L541.0 1254.9 L543.4 1245.8 L545.1 1233.0 L546.0 1215.0 L546.5 1189.3 L546.9 1137.8 L547.2 1060.7 L547.4 935.5 L547.4 935.5 L550.1 952.3 L553.6 965.1 L557.1 979.3 L560.5 993.6 L563.4 1009.0 L565.7 1027.1 L567.5 1047.6 L569.1 1070.9 L570.5 1096.6 L571.7 1124.9 L572.6 1163.7 L573.5 1202.4 L574.2 1241.1 L574.9 1279.8 L575.3 1297.8 L576.2 1303.5 L577.3 1300.1 L579.1 1295.2 L582.5 1287.5 L587.1 1278.4 L591.8 1270.7 L596.4 1264.3 L599.9 1255.2 L602.2 1246.2 L603.8 1233.3 L604.7 1215.3 L605.2 1189.5 L605.6 1137.9 L605.9 1060.6 L606.1 936.5 L606.1 936.5 L608.8 953.3 L612.2 966.1 L615.6 980.2 L619.0 994.4 L621.7 1009.8 L624.0 1027.8 L625.8 1048.3 L627.4 1071.5 L628.7 1097.2 L629.9 1125.4 L630.8 1164.0 L631.7 1202.6 L632.4 1241.2 L633.0 1279.8 L633.5 1297.8 L634.4 1303.5 L635.4 1300.1 L637.1 1295.3 L640.5 1287.6 L645.0 1278.5 L649.6 1270.8 L654.1 1264.4 L657.5 1255.4 L659.8 1246.3 L661.4 1233.5 L662.3 1215.5 L662.7 1189.8 L663.2 1138.3 L663.4 1061.2 L663.6 939.0 L663.6 939.0 L666.2 955.6 L669.4 968.3 L672.7 982.3 L675.9 996.4 L678.6 1011.7 L680.7 1029.6 L682.5 1049.9 L684.0 1072.9 L685.3 1098.4 L686.4 1126.4 L687.3 1164.7 L688.1 1203.0 L688.8 1241.2 L689.4 1279.5 L689.8 1297.4 L690.7 1303.0 L691.7 1299.7 L693.3 1294.8 L696.6 1287.2 L700.9 1278.2 L705.2 1270.6 L709.6 1264.2 L712.9 1255.2 L715.0 1246.3 L716.6 1233.6 L717.4 1215.8 L717.8 1190.3 L718.3 1139.2 L718.5 1062.7 L718.7 936.5 L718.7 936.5 L721.2 953.3 L724.4 966.1 L727.7 980.3 L730.9 994.6 L733.5 1010.0 L735.6 1028.1 L737.3 1048.6 L738.8 1071.9 L740.1 1097.6 L741.2 1125.9 L742.0 1164.7 L742.9 1203.4 L743.5 1242.1 L744.1 1280.8 L744.5 1298.8 L745.4 1304.5 L746.4 1301.1 L748.0 1296.2 L751.2 1288.5 L755.4 1279.4 L759.7 1271.7 L764.0 1265.3 L767.3 1256.2 L769.4 1247.2 L770.9 1234.3 L771.7 1216.3 L772.2 1190.5 L772.6 1138.9 L772.8 1061.6 L773.0 936.5 L773.0 936.5 L775.5 953.3 L778.7 966.2 L781.9 980.4 L785.1 994.6 L787.8 1010.1 L789.9 1028.2 L791.5 1048.8 L793.1 1072.0 L794.3 1097.9 L795.4 1126.2 L796.3 1165.0 L797.1 1203.7 L797.8 1242.5 L798.4 1281.2 L798.8 1299.3 L799.6 1305.0 L800.6 1301.6 L802.2 1296.7 L805.5 1289.0 L809.7 1279.9 L814.0 1272.2 L818.3 1265.7 L821.5 1256.7 L823.6 1247.6 L825.1 1234.7 L825.9 1216.7 L826.4 1190.9 L826.8 1139.2 L827.0 1061.7 L827.2 937.0 L827.2 937.0 L829.7 953.8 L832.9 966.7 L836.2 980.9 L839.4 995.1 L842.0 1010.6 L844.1 1028.7 L845.8 1049.3 L847.3 1072.5 L848.6 1098.4 L849.7 1126.7 L850.5 1165.5 L851.4 1204.2 L852.0 1243.0 L852.6 1281.7 L853.0 1299.8 L853.9 1305.5 L854.9 1302.1 L856.5 1297.2 L859.7 1289.5 L863.9 1280.4 L868.2 1272.7 L872.5 1266.2 L875.8 1257.2 L877.9 1248.1 L879.4 1235.2 L880.2 1217.2 L880.7 1191.4 L881.1 1139.7 L881.3 1062.2 L881.5 938.0 L881.5 938.0 L883.9 954.8 L887.0 967.6 L890.1 981.8 L893.1 996.1 L895.6 1011.5 L897.6 1029.6 L899.3 1050.1 L900.7 1073.4 L901.9 1099.1 L903.0 1127.4 L903.8 1166.2 L904.6 1204.9 L905.2 1243.6 L905.8 1282.3 L906.2 1300.3 L907.0 1306.0 L908.0 1302.6 L909.5 1297.7 L912.6 1290.0 L916.6 1280.9 L920.7 1273.2 L924.8 1266.8 L927.9 1257.7 L929.9 1248.7 L931.4 1235.8 L932.2 1217.8 L932.6 1192.0 L933.0 1140.4 L933.2 1063.1 L933.4 938.0 L934.1 941.0 L934.6 948.0" fill="none" stroke="#000" stroke-width="4.9" stroke-linejoin="round" stroke-linecap="butt" />
<line x1="225.5" y1="1098.5" x2="929.2" y2="1098.5" stroke="#000" stroke-width="4.6" stroke-dasharray="9.8 14.12" stroke-linecap="round"/>
<path d="M130.7 1288.7 L130.7 1356.6 L250.7 1356.6" fill="none" stroke="#000" stroke-width="4.8" stroke-linejoin="miter" stroke-linecap="butt" />
<path d="M1148.7 1294.7 L1151.8 1288.5 L1154.3 1285.2 L1157.4 1276.1 L1160.6 1266.8 L1162.8 1261.5 L1164.9 1258.9 L1167.2 1255.8 L1169.5 1251.7 L1172.0 1250.1 L1174.6 1247.8 L1177.1 1246.6 L1179.6 1247.4 L1182.2 1248.8 L1184.7 1247.7 L1187.2 1250.1 L1189.8 1248.3 L1192.3 1248.9 L1194.8 1248.9 L1198.6 1252.0 L1202.4 1246.1 L1204.9 1241.5 L1207.7 1233.9 L1210.0 1222.5 L1211.5 1203.5 L1212.5 1178.2 L1213.3 1122.5 L1213.8 1046.6 L1214.6 954.2 L1216.3 983.1 L1218.2 1000.7 L1220.3 1023.0 L1222.2 1043.0 L1223.9 1067.8 L1225.3 1091.9 L1226.6 1122.9 L1227.9 1160.8 L1229.1 1203.8 L1230.1 1244.4 L1231.1 1274.4 L1232.0 1292.3 L1233.6 1298.5 L1235.8 1294.2 L1239.1 1287.1 L1242.4 1280.8 L1245.5 1274.4 L1248.0 1265.6 L1250.0 1256.7 L1251.5 1241.5 L1252.5 1223.8 L1253.3 1173.2 L1254.1 1071.9 L1254.8 947.3 L1256.7 976.6 L1258.7 994.3 L1261.0 1016.9 L1263.0 1037.1 L1264.9 1062.1 L1266.4 1086.5 L1267.8 1117.8 L1269.2 1156.1 L1270.5 1199.5 L1271.6 1240.6 L1272.7 1270.8 L1273.7 1288.9 L1275.3 1295.2 L1277.9 1292.2 L1280.9 1284.6 L1283.9 1275.7 L1287.2 1266.8 L1290.0 1258.0 L1292.3 1251.6 L1295.1 1247.8 L1298.1 1246.6 L1300.6 1250.4 L1303.7 1256.7 L1306.7 1261.8 L1310.0 1264.3 L1313.3 1262.3 L1316.3 1258.0 L1319.4 1252.9 L1321.4 1248.6 L1323.4 1239.0 L1325.2 1223.8 L1326.5 1198.5 L1327.5 1160.5 L1328.5 1071.9 L1329.5 954.2 L1331.3 983.1 L1333.3 1000.7 L1335.4 1023.0 L1337.4 1043.0 L1339.2 1067.8 L1340.7 1091.9 L1342.0 1122.9 L1343.3 1160.8 L1344.6 1203.8 L1345.7 1244.4 L1346.7 1274.4 L1347.7 1292.3 L1349.3 1298.5 L1351.8 1294.7 L1355.6 1284.6 L1358.9 1277.5 L1361.9 1271.9 L1365.5 1266.8 L1368.2 1260.5 L1370.8 1249.1 L1372.5 1236.5 L1374.1 1211.1 L1375.1 1173.2 L1376.1 1071.9 L1377.1 954.2 L1378.8 983.1 L1380.7 1000.7 L1382.7 1023.0 L1384.6 1043.0 L1386.3 1067.8 L1387.7 1091.9 L1389.0 1122.9 L1390.2 1160.8 L1391.4 1203.8 L1392.5 1244.4 L1393.4 1274.4 L1394.3 1292.3 L1395.8 1298.5 L1398.4 1293.4 L1402.4 1284.6 L1405.7 1277.0 L1408.7 1268.9 L1410.8 1254.2 L1412.3 1233.9 L1413.6 1193.4 L1414.6 1097.2 L1415.8 947.3 L1417.7 976.6 L1419.7 994.4 L1421.9 1017.1 L1423.9 1037.3 L1425.8 1062.4 L1427.3 1086.8 L1428.7 1118.2 L1430.0 1156.5 L1431.3 1200.1 L1432.4 1241.2 L1433.5 1271.5 L1434.5 1289.7 L1436.1 1295.9 L1438.6 1292.2 L1442.9 1282.0 L1446.0 1272.4 L1449.3 1261.8 L1452.0 1250.4 L1454.6 1243.5 L1458.1 1241.0 L1460.6 1245.3 L1463.2 1251.6 L1466.2 1258.7 L1469.5 1263.0 L1472.8 1264.8 L1475.8 1264.3 L1479.6 1259.7 L1482.9 1253.7 L1485.5 1245.3 L1487.5 1233.9 L1489.3 1211.1 L1490.5 1173.2 L1491.8 1071.9 L1493.1 954.2 L1494.7 983.1 L1496.6 1000.7 L1498.6 1023.0 L1500.4 1043.0 L1502.1 1067.8 L1503.5 1091.9 L1504.8 1122.9 L1506.0 1160.8 L1507.2 1203.8 L1508.2 1244.4 L1509.1 1274.4 L1510.1 1292.3 L1511.5 1298.5 L1515.6 1294.7 L1519.4 1285.8 L1523.2 1275.7 L1526.5 1264.3 L1529.0 1249.1 L1530.8 1223.8 L1531.8 1173.2 L1532.5 1071.9 L1533.6 949.9 L1535.4 979.1 L1537.4 996.8 L1539.6 1019.3 L1541.7 1039.5 L1543.5 1064.5 L1545.0 1088.8 L1546.4 1120.1 L1547.7 1158.3 L1549.1 1201.7 L1550.2 1242.7 L1551.2 1272.9 L1552.2 1291.0 L1553.8 1297.2 L1556.3 1293.4 L1560.4 1284.6 L1564.9 1274.4 L1569.5 1260.5 L1573.8 1246.6 L1577.6 1233.9 L1581.4 1228.9 L1584.7 1233.9 L1587.7 1242.8 L1590.8 1251.6 L1594.1 1258.7 L1597.4 1261.8 L1600.9 1261.3 L1605.5 1258.7 L1610.5 1253.7 L1614.3 1245.3 L1618.1 1236.5 L1621.2 1226.3 L1623.2 1216.2 L1624.4 1193.4 L1625.2 1147.8 L1625.7 1046.6 L1626.0 955.4 L1627.7 984.2 L1629.7 1001.7 L1631.8 1023.9 L1633.8 1043.8 L1635.5 1068.4 L1637.0 1092.4 L1638.3 1123.2 L1639.6 1160.8 L1640.9 1203.6 L1641.9 1244.0 L1642.9 1273.8 L1643.9 1291.6 L1645.5 1297.7 L1648.5 1294.2 L1653.1 1284.6 L1657.4 1274.4 L1661.7 1263.0 L1664.9 1251.6 L1667.2 1233.9 L1668.5 1198.5 L1669.0 1097.2 L1669.5 951.6 L1671.4 980.5 L1673.5 998.0 L1675.7 1020.4 L1677.8 1040.3 L1679.7 1065.0 L1681.3 1089.1 L1682.7 1120.0 L1684.0 1157.8 L1685.4 1200.7 L1686.5 1241.3 L1687.6 1271.1 L1688.6 1289.0 L1690.3 1295.2 L1693.1 1292.2 L1697.1 1284.6 L1701.2 1274.4 L1704.7 1261.8 L1707.5 1246.6 L1709.3 1223.8 L1710.3 1173.2 L1710.8 1071.9 L1711.3 949.9 L1713.1 979.0 L1715.0 996.7 L1717.2 1019.2 L1719.2 1039.3 L1721.0 1064.2 L1722.5 1088.5 L1723.8 1119.7 L1725.1 1157.8 L1726.4 1201.1 L1727.5 1242.0 L1728.5 1272.2 L1729.4 1290.2 L1731.0 1296.5 L1734.1 1292.2 L1738.4 1279.5 L1743.4 1261.8 L1748.5 1246.6 L1753.6 1228.9 L1757.4 1218.7 L1759.9 1198.5 L1761.4 1147.8 L1762.2 1046.6 L1762.7 959.2 L1764.4 987.5 L1766.3 1004.7 L1768.4 1026.6 L1770.3 1046.1 L1772.0 1070.4 L1773.4 1093.9 L1774.7 1124.2 L1776.0 1161.3 L1777.2 1203.4 L1778.2 1243.1 L1779.2 1272.4 L1780.1 1289.9 L1781.7 1295.9 L1784.7 1292.2 L1789.0 1282.0 L1792.8 1271.9 L1796.6 1259.2 L1799.9 1244.1 L1802.2 1223.8 L1803.4 1185.8 L1804.2 1097.2 L1804.9 956.7 L1806.7 985.2 L1808.7 1002.5 L1810.9 1024.6 L1812.8 1044.2 L1814.6 1068.7 L1816.1 1092.4 L1817.5 1122.9 L1818.8 1160.3 L1820.1 1202.7 L1821.1 1242.7 L1822.1 1272.2 L1823.1 1289.8 L1824.7 1295.9 L1827.7 1291.6 L1830.8 1285.7 L1833.8 1277.4 L1837.1 1268.2 L1840.9 1260.4 L1843.4 1251.4 L1846.0 1248.2 L1848.5 1250.7 L1851.0 1253.8 L1854.1 1258.2 L1857.4 1257.6 L1861.2 1258.8 L1864.2 1256.3 L1866.7 1254.7" fill="none" stroke="#000" stroke-width="4.9" stroke-linejoin="round" stroke-linecap="butt" />
<line x1="1156.1" y1="1086.4" x2="1858.2" y2="1086.4" stroke="#000" stroke-width="4.6" stroke-dasharray="9.8 14.12" stroke-linecap="round"/>
<path d="M1061.5 1276.5 L1061.5 1344.2 L1180.9 1344.2" fill="none" stroke="#000" stroke-width="4.8" stroke-linejoin="miter" stroke-linecap="butt" />
<path d="M1287.8 1209.0 L1304.2 1209.0 L1296.0 1233.4 Z" fill="#fa0500"/>
<path d="M1447.5 1204.0 L1464.0 1204.0 L1455.8 1228.4 Z" fill="#fa0500"/>
<path d="M1572.2 1197.2 L1588.7 1197.2 L1580.4 1221.6 Z" fill="#fa0500"/>
<path d="M1839.2 1211.6 L1855.8 1211.6 L1847.5 1236.0 Z" fill="#fa0500"/>
<path d="M2128.9 1229.1 L2130.4 1224.6 L2131.9 1222.1 L2133.4 1217.3 L2134.9 1223.2 L2136.4 1226.9 L2137.9 1222.9 L2139.5 1221.2 L2141.0 1219.6 L2142.5 1221.5 L2144.0 1222.1 L2145.5 1222.8 L2147.0 1223.8 L2148.5 1226.4 L2150.0 1223.9 L2151.5 1223.3 L2153.0 1212.6 L2154.5 1222.3 L2156.0 1231.6 L2157.5 1220.7 L2159.0 1221.0 L2160.6 1221.1 L2162.1 1221.0 L2163.6 1225.8 L2165.1 1226.1 L2166.6 1221.6 L2168.1 1222.7 L2169.6 1222.4 L2171.1 1212.0 L2173.1 1190.0 L2174.2 1150.0 L2174.3 1018.0 L2174.8 958.0 L2176.4 958.0 L2177.1 1028.0 L2178.1 1165.0 L2179.5 1240.0 L2180.5 1283.7 L2180.9 1313.7 L2181.5 1283.7 L2182.6 1235.0 L2183.4 1145.0 L2183.9 1012.4 L2184.4 952.4 L2186.0 952.4 L2186.7 1022.4 L2187.7 1165.0 L2189.4 1240.0 L2190.4 1283.7 L2190.8 1313.7 L2191.4 1283.7 L2192.6 1235.0 L2193.5 1145.0 L2194.1 1012.4 L2194.6 952.4 L2196.2 952.4 L2196.9 1022.4 L2197.9 1165.0 L2199.8 1240.0 L2200.8 1283.7 L2201.2 1313.7 L2201.9 1283.7 L2203.1 1235.0 L2204.0 1145.0 L2204.7 1017.5 L2205.2 957.5 L2206.8 957.5 L2207.5 1027.5 L2208.5 1165.0 L2210.5 1240.0 L2211.6 1283.7 L2212.0 1313.7 L2212.7 1283.7 L2214.0 1235.0 L2214.8 1145.0 L2215.6 1016.0 L2216.1 956.0 L2217.7 956.0 L2218.4 1026.0 L2219.4 1165.0 L2222.4 1240.0 L2223.8 1283.7 L2224.3 1313.7 L2225.1 1283.7 L2226.7 1235.0 L2227.8 1145.0 L2229.0 1021.0 L2229.5 961.0 L2231.1 961.0 L2231.8 1031.0 L2232.8 1165.0 L2234.9 1240.0 L2236.0 1283.7 L2236.4 1313.7 L2237.1 1283.7 L2238.4 1235.0 L2239.3 1145.0 L2240.1 1018.0 L2240.6 958.0 L2242.2 958.0 L2242.9 1028.0 L2243.9 1165.0 L2245.6 1240.0 L2246.7 1283.7 L2247.1 1313.7 L2247.7 1283.7 L2249.4 1290.0 L2250.6 1244.0 L2252.1 1228.0 L2253.6 1240.0 L2255.1 1246.6 L2256.6 1246.3 L2258.1 1243.2 L2259.6 1236.8 L2261.1 1237.3 L2262.6 1235.6 L2264.1 1228.8 L2265.6 1227.8 L2267.1 1229.6 L2268.6 1229.1 L2270.2 1230.2 L2271.7 1230.3 L2273.2 1227.8 L2274.7 1226.8 L2276.2 1231.1 L2277.7 1229.3 L2279.2 1215.0 L2280.7 1226.1 L2282.2 1228.9 L2283.7 1221.8 L2285.2 1222.4 L2286.7 1229.0 L2288.2 1222.9 L2289.7 1217.4 L2291.2 1221.8 L2292.7 1224.9 L2294.2 1228.1 L2295.7 1232.1 L2297.2 1230.8 L2298.8 1226.2 L2300.3 1225.1 L2301.8 1221.7 L2303.3 1217.5 L2304.8 1210.6 L2306.3 1222.4 L2307.8 1229.5 L2309.3 1223.2 L2310.8 1223.6 L2312.3 1223.0 L2313.8 1225.6 L2315.3 1226.4 L2316.8 1224.8 L2318.3 1224.3 L2319.8 1223.1 L2321.3 1224.0 L2322.8 1225.5 L2324.3 1222.9 L2325.8 1220.2 L2327.4 1217.6 L2328.9 1219.0 L2330.4 1225.6 L2331.9 1227.9 L2333.4 1228.0 L2334.9 1223.4 L2336.4 1223.6 L2337.9 1222.6 L2339.4 1227.2 L2340.9 1231.6 L2342.4 1227.1 L2343.9 1221.0 L2345.4 1218.0 L2346.9 1220.1 L2348.4 1224.4 L2349.9 1225.1 L2351.4 1223.5 L2352.9 1222.3 L2354.5 1221.5 L2356.0 1223.6 L2357.5 1229.8 L2359.0 1230.4 L2360.5 1225.9 L2362.0 1224.2 L2363.5 1221.1 L2365.0 1223.1 L2366.5 1221.8 L2368.0 1221.3 L2369.5 1221.2 L2371.0 1222.6 L2372.5 1222.1 L2374.0 1225.1 L2375.5 1228.5 L2377.0 1227.5 L2378.5 1226.1 L2380.0 1227.1 L2381.5 1220.6 L2383.1 1208.5 L2384.6 1213.0 L2386.1 1226.3 L2387.6 1228.4 L2389.1 1221.7 L2390.6 1218.3 L2392.1 1219.9 L2393.6 1226.6 L2395.1 1232.2 L2396.6 1228.5 L2398.1 1222.0 L2399.6 1200.0 L2400.9 1150.0 L2400.9 1018.5 L2401.4 958.5 L2403.0 958.5 L2403.7 1028.5 L2404.7 1165.0 L2406.5 1240.0 L2407.5 1283.7 L2407.9 1313.7 L2408.5 1283.7 L2409.8 1235.0 L2410.6 1145.0 L2411.3 1016.7 L2411.8 956.7 L2413.4 956.7 L2414.1 1026.7 L2415.1 1165.0 L2417.0 1240.0 L2418.0 1283.7 L2418.4 1313.7 L2419.1 1283.7 L2420.3 1235.0 L2421.2 1145.0 L2421.9 1018.5 L2422.4 958.5 L2424.0 958.5 L2424.7 1028.5 L2425.7 1165.0 L2427.6 1240.0 L2428.7 1283.7 L2429.1 1313.7 L2429.7 1283.7 L2431.0 1235.0 L2431.9 1145.0 L2432.6 1020.5 L2433.1 960.5 L2434.7 960.5 L2435.4 1030.5 L2436.4 1165.0 L2438.0 1240.0 L2439.1 1283.7 L2439.5 1313.7 L2440.1 1283.7 L2441.3 1235.0 L2442.1 1145.0 L2442.7 1018.0 L2443.2 958.0 L2444.8 958.0 L2445.5 1028.0 L2446.5 1165.0 L2448.7 1240.0 L2449.8 1283.7 L2450.3 1313.7 L2451.0 1283.7 L2452.3 1235.0 L2453.2 1145.0 L2454.1 1019.2 L2454.6 959.2 L2456.2 959.2 L2456.9 1029.2 L2457.9 1165.0 L2459.9 1240.0 L2461.0 1283.7 L2461.4 1313.7 L2462.1 1283.7 L2463.4 1235.0 L2464.2 1145.0 L2465.0 1019.2 L2465.5 959.2 L2467.1 959.2 L2467.8 1029.2 L2468.8 1165.0 L2471.5 1240.0 L2472.8 1283.7 L2473.3 1313.7 L2474.0 1283.7 L2475.5 1235.0 L2476.5 1145.0 L2477.6 1023.0 L2478.1 963.0 L2479.7 963.0 L2480.4 1033.0 L2481.4 1165.0 L2483.3 1240.0 L2484.3 1283.7 L2484.7 1313.7 L2485.4 1283.7 L2486.6 1235.0 L2487.5 1145.0 L2488.2 1022.5 L2488.7 962.5 L2490.3 962.5 L2491.0 1032.5 L2492.0 1165.0 L2493.7 1240.0 L2494.8 1283.7 L2495.2 1313.7 L2495.8 1283.7 L2497.1 1290.0 L2498.6 1240.0 L2500.3 1216.0 L2501.8 1235.0 L2503.1 1252.0 L2504.6 1242.7 L2506.1 1244.0 L2507.6 1244.1 L2509.2 1239.1 L2510.7 1233.3 L2512.2 1226.3 L2513.7 1227.4 L2515.2 1229.5 L2516.8 1232.8 L2518.3 1229.0 L2519.8 1225.6 L2521.3 1222.6 L2522.8 1224.9 L2524.4 1233.0 L2525.9 1234.9 L2527.4 1228.8 L2528.9 1212.0 L2530.5 1213.6 L2532.0 1228.9 L2533.5 1231.8 L2535.0 1226.3 L2536.5 1223.3 L2538.1 1221.3 L2539.6 1220.8 L2541.1 1221.0 L2542.6 1219.7 L2544.1 1230.2 L2545.7 1230.6 L2547.2 1225.9 L2548.7 1227.9 L2550.2 1226.1 L2551.7 1224.0 L2553.3 1226.1 L2554.8 1223.0 L2556.3 1222.7 L2557.8 1221.3 L2559.3 1220.6 L2560.9 1225.8 L2562.4 1228.0 L2563.9 1227.6 L2565.4 1223.5 L2567.0 1224.6 L2568.5 1227.9 L2570.0 1222.3 L2571.5 1218.6 L2573.0 1227.5 L2574.6 1220.9 L2576.1 1218.8 L2577.6 1221.9 L2579.1 1215.0 L2581.1 1190.0 L2582.4 1150.0 L2582.4 1018.0 L2582.9 958.0 L2584.5 958.0 L2585.2 1028.0 L2586.2 1165.0 L2588.1 1240.0 L2589.2 1282.4 L2589.6 1312.4 L2590.2 1282.4 L2591.5 1235.0 L2592.4 1145.0 L2593.1 1017.5 L2593.6 957.5 L2595.2 957.5 L2595.9 1027.5 L2596.9 1165.0 L2598.8 1240.0 L2599.8 1282.4 L2600.2 1312.4 L2600.9 1282.4 L2602.1 1235.0 L2603.0 1145.0 L2603.7 1023.0 L2604.2 963.0 L2605.8 963.0 L2606.5 1033.0 L2607.5 1165.0 L2609.5 1240.0 L2610.6 1282.4 L2611.0 1312.4 L2611.7 1282.4 L2613.0 1235.0 L2613.8 1145.0 L2614.6 1025.0 L2615.1 965.0 L2616.7 965.0 L2617.4 1035.0 L2618.4 1165.0 L2620.3 1240.0 L2621.4 1282.4 L2621.8 1312.4 L2622.5 1282.4 L2623.8 1235.0 L2624.7 1145.0 L2625.4 1020.5 L2625.9 960.5 L2627.5 960.5 L2628.2 1030.5 L2629.2 1165.0 L2630.8 1240.0 L2631.8 1282.4 L2632.2 1312.4 L2632.8 1282.4 L2634.0 1235.0 L2634.8 1145.0 L2635.4 1022.5 L2635.9 962.5 L2637.5 962.5 L2638.2 1032.5 L2639.2 1165.0 L2640.8 1240.0 L2641.8 1282.4 L2642.2 1312.4 L2642.8 1282.4 L2644.0 1235.0 L2644.8 1145.0 L2645.4 1021.0 L2645.9 961.0 L2647.5 961.0 L2648.2 1031.0 L2649.2 1165.0 L2650.7 1240.0 L2651.6 1282.4 L2652.0 1312.4 L2652.6 1282.4 L2653.8 1235.0 L2654.6 1145.0 L2655.1 1020.0 L2655.6 960.0 L2657.2 960.0 L2657.9 1030.0 L2658.9 1165.0 L2660.8 1240.0 L2661.8 1282.4 L2662.2 1312.4 L2662.9 1282.4 L2664.1 1235.0 L2665.0 1145.0 L2665.7 1025.0 L2666.2 965.0 L2667.8 965.0 L2668.5 1035.0 L2669.5 1165.0 L2671.5 1240.0 L2672.6 1282.4 L2673.0 1312.4 L2673.7 1282.4 L2675.0 1235.0 L2675.8 1145.0 L2676.6 1022.5 L2677.1 962.5 L2678.7 962.5 L2679.4 1032.5 L2680.4 1165.0 L2682.0 1240.0 L2683.1 1282.4 L2683.5 1312.4 L2684.1 1282.4 L2685.3 1235.0 L2686.1 1145.0 L2686.7 1022.5 L2687.2 962.5 L2688.8 962.5 L2689.5 1032.5 L2690.5 1165.0 L2692.5 1240.0 L2693.6 1282.4 L2694.0 1312.4 L2694.7 1282.4 L2696.0 1235.0 L2696.8 1145.0 L2697.6 1026.8 L2698.1 966.8 L2699.7 966.8 L2700.4 1036.8 L2701.4 1165.0 L2703.1 1240.0 L2704.2 1282.4 L2704.6 1312.4 L2705.2 1282.4 L2706.2 1290.0 L2707.6 1240.0 L2709.4 1218.0 L2710.9 1238.0 L2712.1 1252.0 L2713.6 1242.3 L2715.1 1235.9 L2716.6 1232.8 L2718.1 1234.0 L2719.6 1233.7 L2721.1 1231.3 L2722.6 1228.3 L2724.1 1227.6 L2725.6 1227.3 L2727.1 1228.8 L2728.6 1230.4 L2730.1 1223.6 L2731.6 1216.9 L2733.1 1228.5 L2734.6 1234.9 L2736.1 1228.2 L2737.6 1225.2 L2739.1 1223.4 L2740.6 1221.5 L2742.1 1223.8 L2743.6 1220.3 L2745.1 1224.2 L2746.6 1227.1 L2748.1 1217.9 L2749.6 1221.9 L2751.1 1228.4 L2752.6 1228.8 L2754.1 1226.7 L2755.6 1228.5 L2757.1 1226.6 L2758.6 1221.0 L2760.1 1219.7 L2761.6 1220.5 L2763.1 1215.0 L2765.1 1190.0 L2766.4 1150.0 L2766.4 1018.0 L2766.9 958.0 L2768.5 958.0 L2769.2 1028.0 L2770.2 1165.0 L2772.4 1240.0 L2773.6 1281.0 L2774.0 1311.0 L2774.7 1281.0 L2776.1 1235.0 L2777.0 1145.0 L2777.9 1025.0 L2778.4 965.0 L2780.0 965.0 L2780.7 1035.0 L2781.7 1165.0 L2783.1 1240.0 L2784.0 1281.0 L2784.4 1311.0 L2785.0 1281.0 L2786.1 1235.0 L2786.9 1145.0 L2787.4 1025.6 L2787.9 965.6 L2789.5 965.6 L2790.2 1035.6 L2791.2 1165.0 L2792.8 1240.0 L2793.8 1281.0 L2794.2 1311.0 L2794.8 1281.0 L2796.0 1235.0 L2796.8 1145.0 L2797.4 1021.8 L2797.9 961.8 L2799.5 961.8 L2800.2 1031.8 L2801.2 1165.0 L2803.1 1240.0 L2804.2 1281.0 L2804.6 1311.0 L2805.3 1281.0 L2806.6 1235.0 L2807.5 1145.0 L2808.2 1024.3 L2808.7 964.3 L2810.3 964.3 L2811.0 1034.3 L2812.0 1165.0 L2813.7 1240.0 L2814.8 1281.0 L2815.2 1311.0 L2815.8 1281.0 L2816.6 1290.0 L2817.4 1240.0 L2818.3 1216.0 L2819.6 1235.0 L2821.1 1250.0 L2822.6 1242.7 L2824.1 1236.1 L2825.7 1234.0 L2827.2 1235.3 L2828.7 1234.5 L2830.2 1233.8 L2831.8 1233.4 L2833.3 1229.6 L2834.8 1231.4 L2836.4 1229.2 L2837.9 1230.4 L2839.4 1223.9 L2841.0 1220.5 L2842.5 1226.5 L2844.0 1223.3 L2845.5 1221.1 L2847.1 1223.2 L2848.6 1224.1" fill="none" stroke="#000" stroke-width="5.8" stroke-linejoin="round" stroke-linecap="butt" />
<line x1="2135.5" y1="1084.6" x2="2836.7" y2="1084.6" stroke="#000" stroke-width="4.6" stroke-dasharray="9.8 14.12" stroke-linecap="round"/>
<path d="M2040.7 1274.1 L2040.7 1342.3 L2113.8 1342.3" fill="none" stroke="#000" stroke-width="4.8" stroke-linejoin="miter" stroke-linecap="butt" />
<path d="M2311.2 1175.2 L2327.8 1175.2 L2319.5 1199.2 Z" fill="#fa0500"/>
<path d="M2519.8 1175.2 L2536.2 1175.2 L2528.0 1199.2 Z" fill="#fa0500"/>
<path d="M2720.8 1171.4 L2737.2 1171.4 L2729.0 1195.4 Z" fill="#fa0500"/>
<rect x="262.40" y="1620.00" width="129.20" height="18.14" fill="#00008b"/>
<rect x="262.40" y="1637.14" width="129.20" height="62.20" fill="#a00000"/>
<rect x="262.40" y="1698.34" width="129.20" height="411.26" fill="#000"/>
<rect x="446.00" y="1620.00" width="130.20" height="27.44" fill="#00008b"/>
<rect x="446.00" y="1646.44" width="130.20" height="235.52" fill="#a00000"/>
<rect x="446.00" y="1880.96" width="130.20" height="228.64" fill="#000"/>
<rect x="630.40" y="1620.00" width="129.50" height="1.00" fill="#a00000"/>
<rect x="630.40" y="1620.00" width="129.50" height="58.28" fill="#a00000"/>
<rect x="630.40" y="1677.28" width="129.50" height="432.32" fill="#000"/>
<rect x="814.80" y="1620.00" width="129.10" height="46.04" fill="#00008b"/>
<rect x="814.80" y="1665.04" width="129.10" height="213.98" fill="#a00000"/>
<rect x="814.80" y="1878.02" width="129.10" height="231.58" fill="#000"/>
<line x1="234.30" y1="1617.60" x2="234.30" y2="2112.00" stroke="#000" stroke-width="4.8" stroke-linecap="butt" />
<line x1="221.40" y1="2109.60" x2="973.20" y2="2109.60" stroke="#000" stroke-width="4.8" stroke-linecap="butt" />
<line x1="221.40" y1="2109.60" x2="234.00" y2="2109.60" stroke="#000" stroke-width="4.8" stroke-linecap="butt" />
<line x1="221.40" y1="2011.68" x2="234.00" y2="2011.68" stroke="#000" stroke-width="4.8" stroke-linecap="butt" />
<line x1="221.40" y1="1913.76" x2="234.00" y2="1913.76" stroke="#000" stroke-width="4.8" stroke-linecap="butt" />
<line x1="221.40" y1="1815.84" x2="234.00" y2="1815.84" stroke="#000" stroke-width="4.8" stroke-linecap="butt" />
<line x1="221.40" y1="1717.92" x2="234.00" y2="1717.92" stroke="#000" stroke-width="4.8" stroke-linecap="butt" />
<line x1="221.40" y1="1620.00" x2="234.00" y2="1620.00" stroke="#000" stroke-width="4.8" stroke-linecap="butt" />
<line x1="326.60" y1="2109.60" x2="326.60" y2="2124.30" stroke="#000" stroke-width="4.8" stroke-linecap="butt" />
<line x1="511.60" y1="2109.60" x2="511.60" y2="2124.30" stroke="#000" stroke-width="4.8" stroke-linecap="butt" />
<line x1="695.30" y1="2109.60" x2="695.30" y2="2124.30" stroke="#000" stroke-width="4.8" stroke-linecap="butt" />
<line x1="879.10" y1="2109.60" x2="879.10" y2="2124.30" stroke="#000" stroke-width="4.8" stroke-linecap="butt" />
<text transform="translate(125.45,1637.00) scale(0.9966,1)" font-size="53.8" font-weight="bold" fill="#000">100</text>
<text transform="translate(155.26,1734.92) scale(0.9968,1)" font-size="53.8" font-weight="bold" fill="#000">80</text>
<text transform="translate(154.98,1832.84) scale(1.0016,1)" font-size="53.8" font-weight="bold" fill="#000">60</text>
<text transform="translate(155.19,1930.76) scale(0.9979,1)" font-size="53.8" font-weight="bold" fill="#000">40</text>
<text transform="translate(155.33,2028.68) scale(0.9956,1)" font-size="53.8" font-weight="bold" fill="#000">20</text>
<text transform="translate(186.45,2128.60) scale(0.9078,1)" font-size="53.8" font-weight="bold" fill="#000">0</text>
<text transform="translate(97.60,2026.87) rotate(-90) scale(0.9633,1)" font-size="53.8" font-weight="bold" fill="#000">Cell count (%)</text>
<rect x="218.80" y="1556.60" width="58.80" height="47.80" fill="#000" rx="4"/>
<rect x="490.40" y="1556.60" width="59.60" height="47.80" fill="#a00000" rx="4"/>
<rect x="697.30" y="1556.60" width="58.80" height="47.80" fill="#00008b" rx="4"/>
<text transform="translate(303.18,1599.60) scale(0.9694,1)" font-size="53.8" font-weight="bold" fill="#000">Normal</text>
<text transform="translate(575.53,1599.60) scale(0.9543,1)" font-size="53.8" font-weight="bold" fill="#a00000">DAD</text>
<text transform="translate(781.57,1599.60) scale(0.9996,1)" font-size="53.8" font-weight="bold" fill="#00008b">PCF</text>
<text transform="translate(266.50,2179.50) scale(1.0221,1)" font-size="53.8" font-weight="bold" fill="#000">CON</text>
<text transform="translate(419.13,2179.50) scale(1.0118,1)" font-size="53.8" font-weight="bold" fill="#000">Patient</text>
<text transform="translate(654.18,2179.50) scale(0.9859,1)" font-size="53.8" font-weight="bold" fill="#000">GC</text>
<text transform="translate(837.91,2179.50) scale(1.0165,1)" font-size="53.8" font-weight="bold" fill="#000">KO</text>
<circle cx="1316.0" cy="2067.8" r="9.5" fill="none" stroke="#000" stroke-width="6.0"/>
<circle cx="1327.0" cy="2066.1" r="9.5" fill="none" stroke="#000" stroke-width="6.0"/>
<circle cx="1305.0" cy="2064.4" r="9.5" fill="none" stroke="#000" stroke-width="6.0"/>
<circle cx="1303.6" cy="2062.1" r="9.5" fill="none" stroke="#000" stroke-width="6.0"/>
<circle cx="1327.8" cy="2059.2" r="9.5" fill="none" stroke="#000" stroke-width="6.0"/>
<circle cx="1316.0" cy="2055.1" r="9.5" fill="none" stroke="#000" stroke-width="6.0"/>
<circle cx="1299.5" cy="2051.7" r="9.5" fill="none" stroke="#000" stroke-width="6.0"/>
<circle cx="1325.0" cy="2049.9" r="9.5" fill="none" stroke="#000" stroke-width="6.0"/>
<circle cx="1392.6" cy="2068.7" r="9.5" fill="none" stroke="#a50000" stroke-width="6.0"/>
<circle cx="1401.1" cy="2068.3" r="9.5" fill="none" stroke="#a50000" stroke-width="6.0"/>
<circle cx="1384.1" cy="2067.8" r="9.5" fill="none" stroke="#a50000" stroke-width="6.0"/>
<circle cx="1406.3" cy="2067.6" r="9.5" fill="none" stroke="#a50000" stroke-width="6.0"/>
<circle cx="1406.0" cy="2067.3" r="9.5" fill="none" stroke="#a50000" stroke-width="6.0"/>
<circle cx="1379.3" cy="2066.7" r="9.5" fill="none" stroke="#a50000" stroke-width="6.0"/>
<circle cx="1380.1" cy="2066.0" r="9.5" fill="none" stroke="#a50000" stroke-width="6.0"/>
<circle cx="1402.7" cy="2065.5" r="9.5" fill="none" stroke="#a50000" stroke-width="6.0"/>
<circle cx="1399.7" cy="2065.2" r="9.5" fill="none" stroke="#a50000" stroke-width="6.0"/>
<circle cx="1397.7" cy="2064.4" r="9.5" fill="none" stroke="#a50000" stroke-width="6.0"/>
<circle cx="1386.8" cy="2063.8" r="9.5" fill="none" stroke="#a50000" stroke-width="6.0"/>
<circle cx="1395.8" cy="2063.5" r="9.5" fill="none" stroke="#a50000" stroke-width="6.0"/>
<circle cx="1395.8" cy="2062.6" r="9.5" fill="none" stroke="#a50000" stroke-width="6.0"/>
<circle cx="1395.0" cy="2062.1" r="9.5" fill="none" stroke="#a50000" stroke-width="6.0"/>
<circle cx="1382.4" cy="2061.5" r="9.5" fill="none" stroke="#a50000" stroke-width="6.0"/>
<circle cx="1390.5" cy="2060.3" r="9.5" fill="none" stroke="#a50000" stroke-width="6.0"/>
<circle cx="1389.4" cy="2059.2" r="9.5" fill="none" stroke="#a50000" stroke-width="6.0"/>
<circle cx="1399.3" cy="2058.0" r="9.5" fill="none" stroke="#a50000" stroke-width="6.0"/>
<circle cx="1407.4" cy="2056.9" r="9.5" fill="none" stroke="#a50000" stroke-width="6.0"/>
<circle cx="1406.1" cy="2055.1" r="9.5" fill="none" stroke="#a50000" stroke-width="6.0"/>
<circle cx="1393.9" cy="2053.4" r="9.5" fill="none" stroke="#a50000" stroke-width="6.0"/>
<circle cx="1384.1" cy="2051.7" r="9.5" fill="none" stroke="#a50000" stroke-width="6.0"/>
<circle cx="1390.9" cy="2049.3" r="9.5" fill="none" stroke="#a50000" stroke-width="6.0"/>
<circle cx="1401.1" cy="2047.0" r="9.5" fill="none" stroke="#a50000" stroke-width="6.0"/>
<circle cx="1379.8" cy="2044.1" r="9.5" fill="none" stroke="#a50000" stroke-width="6.0"/>
<circle cx="1385.6" cy="2041.3" r="9.5" fill="none" stroke="#a50000" stroke-width="6.0"/>
<circle cx="1396.8" cy="2037.8" r="9.5" fill="none" stroke="#a50000" stroke-width="6.0"/>
<circle cx="1405.3" cy="2034.3" r="9.5" fill="none" stroke="#a50000" stroke-width="6.0"/>
<circle cx="1392.6" cy="2030.3" r="9.5" fill="none" stroke="#a50000" stroke-width="6.0"/>
<circle cx="1401.1" cy="2026.2" r="9.5" fill="none" stroke="#a50000" stroke-width="6.0"/>
<circle cx="1392.6" cy="2021.6" r="9.5" fill="none" stroke="#a50000" stroke-width="6.0"/>
<circle cx="1401.1" cy="2017.0" r="9.5" fill="none" stroke="#a50000" stroke-width="6.0"/>
<circle cx="1392.6" cy="2012.4" r="9.5" fill="none" stroke="#a50000" stroke-width="6.0"/>
<circle cx="1401.1" cy="2006.6" r="9.5" fill="none" stroke="#a50000" stroke-width="6.0"/>
<circle cx="1392.6" cy="2000.8" r="9.5" fill="none" stroke="#a50000" stroke-width="6.0"/>
<circle cx="1401.1" cy="1993.9" r="9.5" fill="none" stroke="#a50000" stroke-width="6.0"/>
<circle cx="1392.6" cy="1986.0" r="9.5" fill="none" stroke="#a50000" stroke-width="6.0"/>
<circle cx="1401.1" cy="1978.8" r="9.5" fill="none" stroke="#a50000" stroke-width="6.0"/>
<circle cx="1392.6" cy="1969.6" r="9.5" fill="none" stroke="#a50000" stroke-width="6.0"/>
<circle cx="1392.6" cy="1953.6" r="9.5" fill="none" stroke="#a50000" stroke-width="6.0"/>
<circle cx="1392.6" cy="1936.8" r="9.5" fill="none" stroke="#a50000" stroke-width="6.0"/>
<circle cx="1392.6" cy="1915.9" r="9.5" fill="none" stroke="#a50000" stroke-width="6.0"/>
<circle cx="1392.6" cy="1892.0" r="9.5" fill="none" stroke="#a50000" stroke-width="6.0"/>
<circle cx="1392.6" cy="1795.5" r="9.5" fill="none" stroke="#a50000" stroke-width="6.0"/>
<circle cx="1392.6" cy="1703.8" r="9.5" fill="none" stroke="#a50000" stroke-width="6.0"/>
<circle cx="1392.6" cy="1671.7" r="9.5" fill="none" stroke="#a50000" stroke-width="6.0"/>
<circle cx="1470.2" cy="2067.3" r="9.5" fill="none" stroke="#00008b" stroke-width="6.0"/>
<circle cx="1481.2" cy="2065.5" r="9.5" fill="none" stroke="#00008b" stroke-width="6.0"/>
<circle cx="1459.2" cy="2063.8" r="9.5" fill="none" stroke="#00008b" stroke-width="6.0"/>
<circle cx="1461.3" cy="2062.1" r="9.5" fill="none" stroke="#00008b" stroke-width="6.0"/>
<circle cx="1471.7" cy="2059.8" r="9.5" fill="none" stroke="#00008b" stroke-width="6.0"/>
<circle cx="1465.8" cy="2057.4" r="9.5" fill="none" stroke="#00008b" stroke-width="6.0"/>
<circle cx="1486.7" cy="2054.6" r="9.5" fill="none" stroke="#00008b" stroke-width="6.0"/>
<circle cx="1453.7" cy="2051.7" r="9.5" fill="none" stroke="#00008b" stroke-width="6.0"/>
<circle cx="1475.7" cy="2048.2" r="9.5" fill="none" stroke="#00008b" stroke-width="6.0"/>
<circle cx="1464.7" cy="2044.7" r="9.5" fill="none" stroke="#00008b" stroke-width="6.0"/>
<circle cx="1486.7" cy="2040.1" r="9.5" fill="none" stroke="#00008b" stroke-width="6.0"/>
<circle cx="1475.7" cy="2035.5" r="9.5" fill="none" stroke="#00008b" stroke-width="6.0"/>
<circle cx="1546.9" cy="2068.4" r="9.5" fill="none" stroke="#006400" stroke-width="6.0"/>
<circle cx="1556.9" cy="2067.8" r="9.5" fill="none" stroke="#006400" stroke-width="6.0"/>
<circle cx="1536.9" cy="2066.7" r="9.5" fill="none" stroke="#006400" stroke-width="6.0"/>
<circle cx="1538.5" cy="2065.0" r="9.5" fill="none" stroke="#006400" stroke-width="6.0"/>
<circle cx="1534.2" cy="2063.2" r="9.5" fill="none" stroke="#006400" stroke-width="6.0"/>
<circle cx="1543.6" cy="2062.1" r="9.5" fill="none" stroke="#006400" stroke-width="6.0"/>
<circle cx="1535.9" cy="2059.8" r="9.5" fill="none" stroke="#006400" stroke-width="6.0"/>
<circle cx="1551.9" cy="2056.3" r="9.5" fill="none" stroke="#006400" stroke-width="6.0"/>
<circle cx="1541.9" cy="2051.7" r="9.5" fill="none" stroke="#006400" stroke-width="6.0"/>
<circle cx="1556.9" cy="2047.0" r="9.5" fill="none" stroke="#006400" stroke-width="6.0"/>
<circle cx="1546.9" cy="2040.1" r="9.5" fill="none" stroke="#006400" stroke-width="6.0"/>
<circle cx="1556.9" cy="2034.3" r="9.5" fill="none" stroke="#006400" stroke-width="6.0"/>
<circle cx="1546.9" cy="2028.5" r="9.5" fill="none" stroke="#006400" stroke-width="6.0"/>
<circle cx="1556.9" cy="2021.6" r="9.5" fill="none" stroke="#006400" stroke-width="6.0"/>
<circle cx="1546.9" cy="2013.5" r="9.5" fill="none" stroke="#006400" stroke-width="6.0"/>
<circle cx="1551.9" cy="2004.8" r="9.5" fill="none" stroke="#006400" stroke-width="6.0"/>
<circle cx="1546.9" cy="1961.4" r="9.5" fill="none" stroke="#006400" stroke-width="6.0"/>
<circle cx="1546.9" cy="1944.0" r="9.5" fill="none" stroke="#006400" stroke-width="6.0"/>
<circle cx="1546.9" cy="1912.2" r="9.5" fill="none" stroke="#006400" stroke-width="6.0"/>
<circle cx="1546.9" cy="1880.3" r="9.5" fill="none" stroke="#006400" stroke-width="6.0"/>
<circle cx="1546.9" cy="1861.6" r="9.5" fill="none" stroke="#006400" stroke-width="6.0"/>
<circle cx="1546.9" cy="1769.9" r="9.5" fill="none" stroke="#006400" stroke-width="6.0"/>
<line x1="1277.80" y1="1603.80" x2="1277.80" y2="2072.20" stroke="#000" stroke-width="6.0" stroke-linecap="butt" />
<line x1="1263.30" y1="2069.00" x2="1588.80" y2="2069.00" stroke="#000" stroke-width="6.4" stroke-linecap="butt" />
<line x1="1263.30" y1="2069.00" x2="1278.00" y2="2069.00" stroke="#000" stroke-width="6.0" stroke-linecap="butt" />
<line x1="1263.30" y1="1953.40" x2="1278.00" y2="1953.40" stroke="#000" stroke-width="6.0" stroke-linecap="butt" />
<line x1="1263.30" y1="1837.80" x2="1278.00" y2="1837.80" stroke="#000" stroke-width="6.0" stroke-linecap="butt" />
<line x1="1263.30" y1="1722.20" x2="1278.00" y2="1722.20" stroke="#000" stroke-width="6.0" stroke-linecap="butt" />
<line x1="1263.30" y1="1606.60" x2="1278.00" y2="1606.60" stroke="#000" stroke-width="6.0" stroke-linecap="butt" />
<line x1="1316.00" y1="2069.00" x2="1316.00" y2="2083.20" stroke="#000" stroke-width="6.0" stroke-linecap="butt" />
<line x1="1392.60" y1="2069.00" x2="1392.60" y2="2083.20" stroke="#000" stroke-width="6.0" stroke-linecap="butt" />
<line x1="1470.20" y1="2069.00" x2="1470.20" y2="2083.20" stroke="#000" stroke-width="6.0" stroke-linecap="butt" />
<line x1="1546.90" y1="2069.00" x2="1546.90" y2="2083.20" stroke="#000" stroke-width="6.0" stroke-linecap="butt" />
<line x1="1290.50" y1="2063.50" x2="1341.50" y2="2063.50" stroke="#ff6f0a" stroke-width="8" stroke-linecap="butt" />
<line x1="1367.00" y1="2023.30" x2="1418.20" y2="2023.30" stroke="#ff6f0a" stroke-width="8" stroke-linecap="butt" />
<line x1="1392.60" y1="2014.90" x2="1392.60" y2="2031.70" stroke="#ff6f0a" stroke-width="6.4" stroke-linecap="butt" />
<line x1="1380.20" y1="2014.90" x2="1405.00" y2="2014.90" stroke="#ff6f0a" stroke-width="8" stroke-linecap="butt" />
<line x1="1380.20" y1="2031.70" x2="1405.00" y2="2031.70" stroke="#ff6f0a" stroke-width="8" stroke-linecap="butt" />
<line x1="1444.80" y1="2056.90" x2="1495.60" y2="2056.90" stroke="#ff6f0a" stroke-width="8" stroke-linecap="butt" />
<line x1="1521.50" y1="2015.00" x2="1572.30" y2="2015.00" stroke="#ff6f0a" stroke-width="8" stroke-linecap="butt" />
<line x1="1546.90" y1="2000.50" x2="1546.90" y2="2029.50" stroke="#ff6f0a" stroke-width="6.4" stroke-linecap="butt" />
<line x1="1534.30" y1="2000.50" x2="1559.50" y2="2000.50" stroke="#ff6f0a" stroke-width="8" stroke-linecap="butt" />
<line x1="1534.30" y1="2029.50" x2="1559.50" y2="2029.50" stroke="#ff6f0a" stroke-width="8" stroke-linecap="butt" />
<text transform="translate(1144.75,1625.00) scale(0.9583,1)" font-size="52.5" font-weight="bold" fill="#000">4000</text>
<text transform="translate(1145.88,1740.60) scale(0.9484,1)" font-size="52.5" font-weight="bold" fill="#000">3000</text>
<text transform="translate(1144.74,1856.20) scale(0.9584,1)" font-size="52.5" font-weight="bold" fill="#000">2000</text>
<text transform="translate(1146.40,1971.80) scale(0.9438,1)" font-size="52.5" font-weight="bold" fill="#000">1000</text>
<text transform="translate(1231.18,2087.40) scale(0.8662,1)" font-size="52.5" font-weight="bold" fill="#000">0</text>
<text transform="translate(1120.00,2124.99) rotate(-90) scale(0.9560,1)" font-size="52" font-weight="bold" fill="#000">SD of peak intervals (ms)</text>
<line x1="1317.40" y1="1551.00" x2="1550.60" y2="1551.00" stroke="#000" stroke-width="6.6" stroke-linecap="butt" />
<line x1="1305.80" y1="1606.60" x2="1395.80" y2="1606.60" stroke="#000" stroke-width="6.6" stroke-linecap="butt" />
<line x1="1393.50" y1="1637.00" x2="1483.80" y2="1637.00" stroke="#000" stroke-width="6.6" stroke-linecap="butt" />
<text transform="translate(1414.58,1548.44) scale(1.0620,1)" font-size="45" font-weight="bold" fill="#000">*</text>
<text transform="translate(1341.38,1607.24) scale(1.0620,1)" font-size="45" font-weight="bold" fill="#000">*</text>
<text transform="translate(1426.98,1636.94) scale(1.0620,1)" font-size="45" font-weight="bold" fill="#000">*</text>
<text transform="translate(1324.90,2139.40) rotate(-30) translate(-106.99,0) scale(0.9510,1)" font-size="52.2" font-weight="bold" fill="#000">CON</text>
<text transform="translate(1403.60,2138.20) rotate(-30) translate(-169.44,0) scale(0.9774,1)" font-size="52.2" font-weight="bold" fill="#000">Patient</text>
<text transform="translate(1480.90,2138.40) rotate(-30) translate(-73.60,0) scale(0.9573,1)" font-size="52.2" font-weight="bold" fill="#000">GC</text>
<text transform="translate(1557.10,2138.70) rotate(-30) translate(-72.98,0) scale(0.9594,1)" font-size="52.2" font-weight="bold" fill="#000">KO</text>
<circle cx="1931.0" cy="1974.0" r="10.0" fill="none" stroke="#000" stroke-width="8.4"/>
<circle cx="1931.0" cy="1955.4" r="10.0" fill="none" stroke="#000" stroke-width="8.4"/>
<circle cx="1945.0" cy="1944.8" r="10.0" fill="none" stroke="#000" stroke-width="8.4"/>
<circle cx="1931.0" cy="1934.2" r="10.0" fill="none" stroke="#000" stroke-width="8.4"/>
<circle cx="1945.0" cy="1926.3" r="10.0" fill="none" stroke="#000" stroke-width="8.4"/>
<circle cx="1931.0" cy="1918.3" r="10.0" fill="none" stroke="#000" stroke-width="8.4"/>
<circle cx="1945.0" cy="1911.9" r="10.0" fill="none" stroke="#000" stroke-width="8.4"/>
<circle cx="1917.0" cy="1906.6" r="10.0" fill="none" stroke="#000" stroke-width="8.4"/>
<circle cx="1931.0" cy="1902.4" r="10.0" fill="none" stroke="#000" stroke-width="8.4"/>
<circle cx="1952.0" cy="1898.2" r="10.0" fill="none" stroke="#000" stroke-width="8.4"/>
<circle cx="1910.0" cy="1894.5" r="10.0" fill="none" stroke="#000" stroke-width="8.4"/>
<circle cx="1934.9" cy="1890.7" r="10.0" fill="none" stroke="#000" stroke-width="8.4"/>
<circle cx="1927.2" cy="1886.5" r="10.0" fill="none" stroke="#000" stroke-width="8.4"/>
<circle cx="1952.0" cy="1882.3" r="10.0" fill="none" stroke="#000" stroke-width="8.4"/>
<circle cx="1910.0" cy="1877.5" r="10.0" fill="none" stroke="#000" stroke-width="8.4"/>
<circle cx="1931.0" cy="1870.6" r="10.0" fill="none" stroke="#000" stroke-width="8.4"/>
<circle cx="1945.0" cy="1862.7" r="10.0" fill="none" stroke="#000" stroke-width="8.4"/>
<circle cx="1931.0" cy="1855.8" r="10.0" fill="none" stroke="#000" stroke-width="8.4"/>
<circle cx="1945.0" cy="1848.3" r="10.0" fill="none" stroke="#000" stroke-width="8.4"/>
<circle cx="1931.0" cy="1838.8" r="10.0" fill="none" stroke="#000" stroke-width="8.4"/>
<circle cx="1945.0" cy="1830.9" r="10.0" fill="none" stroke="#000" stroke-width="8.4"/>
<circle cx="1984.0" cy="2050.8" r="10.0" fill="none" stroke="#a50000" stroke-width="8.4"/>
<circle cx="1997.0" cy="2048.2" r="10.0" fill="none" stroke="#a50000" stroke-width="8.4"/>
<circle cx="1971.0" cy="2042.9" r="10.0" fill="none" stroke="#a50000" stroke-width="8.4"/>
<circle cx="1984.0" cy="2037.6" r="10.0" fill="none" stroke="#a50000" stroke-width="8.4"/>
<circle cx="1997.0" cy="2032.3" r="10.0" fill="none" stroke="#a50000" stroke-width="8.4"/>
<circle cx="1971.0" cy="2027.5" r="10.0" fill="none" stroke="#a50000" stroke-width="8.4"/>
<circle cx="1984.0" cy="2023.2" r="10.0" fill="none" stroke="#a50000" stroke-width="8.4"/>
<circle cx="1997.0" cy="2019.0" r="10.0" fill="none" stroke="#a50000" stroke-width="8.4"/>
<circle cx="1964.5" cy="2015.8" r="10.0" fill="none" stroke="#a50000" stroke-width="8.4"/>
<circle cx="2010.0" cy="2012.6" r="10.0" fill="none" stroke="#a50000" stroke-width="8.4"/>
<circle cx="1984.0" cy="2009.5" r="10.0" fill="none" stroke="#a50000" stroke-width="8.4"/>
<circle cx="1981.3" cy="2007.3" r="10.0" fill="none" stroke="#a50000" stroke-width="8.4"/>
<circle cx="1997.0" cy="2005.2" r="10.0" fill="none" stroke="#a50000" stroke-width="8.4"/>
<circle cx="1958.0" cy="2003.1" r="10.0" fill="none" stroke="#a50000" stroke-width="8.4"/>
<circle cx="1987.3" cy="2001.0" r="10.0" fill="none" stroke="#a50000" stroke-width="8.4"/>
<circle cx="1971.0" cy="1998.9" r="10.0" fill="none" stroke="#a50000" stroke-width="8.4"/>
<circle cx="2010.0" cy="1996.7" r="10.0" fill="none" stroke="#a50000" stroke-width="8.4"/>
<circle cx="2007.8" cy="1994.6" r="10.0" fill="none" stroke="#a50000" stroke-width="8.4"/>
<circle cx="1982.1" cy="1992.5" r="10.0" fill="none" stroke="#a50000" stroke-width="8.4"/>
<circle cx="1958.0" cy="1989.9" r="10.0" fill="none" stroke="#a50000" stroke-width="8.4"/>
<circle cx="1997.0" cy="1987.2" r="10.0" fill="none" stroke="#a50000" stroke-width="8.4"/>
<circle cx="1971.0" cy="1984.6" r="10.0" fill="none" stroke="#a50000" stroke-width="8.4"/>
<circle cx="1984.4" cy="1981.9" r="10.0" fill="none" stroke="#a50000" stroke-width="8.4"/>
<circle cx="2010.0" cy="1979.3" r="10.0" fill="none" stroke="#a50000" stroke-width="8.4"/>
<circle cx="1958.0" cy="1976.6" r="10.0" fill="none" stroke="#a50000" stroke-width="8.4"/>
<circle cx="1997.0" cy="1973.4" r="10.0" fill="none" stroke="#a50000" stroke-width="8.4"/>
<circle cx="1977.5" cy="1970.2" r="10.0" fill="none" stroke="#a50000" stroke-width="8.4"/>
<circle cx="1988.9" cy="1967.1" r="10.0" fill="none" stroke="#a50000" stroke-width="8.4"/>
<circle cx="1964.5" cy="1963.4" r="10.0" fill="none" stroke="#a50000" stroke-width="8.4"/>
<circle cx="2003.5" cy="1959.6" r="10.0" fill="none" stroke="#a50000" stroke-width="8.4"/>
<circle cx="1977.5" cy="1955.4" r="10.0" fill="none" stroke="#a50000" stroke-width="8.4"/>
<circle cx="1990.5" cy="1951.2" r="10.0" fill="none" stroke="#a50000" stroke-width="8.4"/>
<circle cx="1964.5" cy="1946.9" r="10.0" fill="none" stroke="#a50000" stroke-width="8.4"/>
<circle cx="1977.5" cy="1941.6" r="10.0" fill="none" stroke="#a50000" stroke-width="8.4"/>
<circle cx="1990.5" cy="1935.3" r="10.0" fill="none" stroke="#a50000" stroke-width="8.4"/>
<circle cx="1971.0" cy="1928.9" r="10.0" fill="none" stroke="#a50000" stroke-width="8.4"/>
<circle cx="1984.0" cy="1921.0" r="10.0" fill="none" stroke="#a50000" stroke-width="8.4"/>
<circle cx="1997.0" cy="1913.0" r="10.0" fill="none" stroke="#a50000" stroke-width="8.4"/>
<circle cx="1984.0" cy="1902.4" r="10.0" fill="none" stroke="#a50000" stroke-width="8.4"/>
<circle cx="1984.0" cy="1889.2" r="10.0" fill="none" stroke="#a50000" stroke-width="8.4"/>
<circle cx="1984.0" cy="1875.9" r="10.0" fill="none" stroke="#a50000" stroke-width="8.4"/>
<circle cx="1984.0" cy="1862.7" r="10.0" fill="none" stroke="#a50000" stroke-width="8.4"/>
<circle cx="1990.5" cy="1850.5" r="10.0" fill="none" stroke="#a50000" stroke-width="8.4"/>
<circle cx="1984.0" cy="1828.2" r="10.0" fill="none" stroke="#a50000" stroke-width="8.4"/>
<circle cx="2035.0" cy="2058.8" r="10.0" fill="none" stroke="#00008b" stroke-width="8.4"/>
<circle cx="2035.0" cy="2040.2" r="10.0" fill="none" stroke="#00008b" stroke-width="8.4"/>
<circle cx="2048.5" cy="2029.6" r="10.0" fill="none" stroke="#00008b" stroke-width="8.4"/>
<circle cx="2035.0" cy="2020.1" r="10.0" fill="none" stroke="#00008b" stroke-width="8.4"/>
<circle cx="2048.5" cy="2012.6" r="10.0" fill="none" stroke="#00008b" stroke-width="8.4"/>
<circle cx="2035.0" cy="2005.8" r="10.0" fill="none" stroke="#00008b" stroke-width="8.4"/>
<circle cx="2021.5" cy="2000.5" r="10.0" fill="none" stroke="#00008b" stroke-width="8.4"/>
<circle cx="2048.5" cy="1995.2" r="10.0" fill="none" stroke="#00008b" stroke-width="8.4"/>
<circle cx="2035.0" cy="1990.4" r="10.0" fill="none" stroke="#00008b" stroke-width="8.4"/>
<circle cx="2021.5" cy="1986.1" r="10.0" fill="none" stroke="#00008b" stroke-width="8.4"/>
<circle cx="2055.2" cy="1981.9" r="10.0" fill="none" stroke="#00008b" stroke-width="8.4"/>
<circle cx="2041.8" cy="1977.7" r="10.0" fill="none" stroke="#00008b" stroke-width="8.4"/>
<circle cx="2028.2" cy="1974.0" r="10.0" fill="none" stroke="#00008b" stroke-width="8.4"/>
<circle cx="2014.8" cy="1970.2" r="10.0" fill="none" stroke="#00008b" stroke-width="8.4"/>
<circle cx="2055.2" cy="1966.0" r="10.0" fill="none" stroke="#00008b" stroke-width="8.4"/>
<circle cx="2035.0" cy="1961.8" r="10.0" fill="none" stroke="#00008b" stroke-width="8.4"/>
<circle cx="2021.5" cy="1958.1" r="10.0" fill="none" stroke="#00008b" stroke-width="8.4"/>
<circle cx="2008.0" cy="1954.3" r="10.0" fill="none" stroke="#00008b" stroke-width="8.4"/>
<circle cx="2048.5" cy="1950.1" r="10.0" fill="none" stroke="#00008b" stroke-width="8.4"/>
<circle cx="2035.0" cy="1945.9" r="10.0" fill="none" stroke="#00008b" stroke-width="8.4"/>
<circle cx="2021.5" cy="1940.6" r="10.0" fill="none" stroke="#00008b" stroke-width="8.4"/>
<circle cx="2048.5" cy="1934.2" r="10.0" fill="none" stroke="#00008b" stroke-width="8.4"/>
<circle cx="2035.0" cy="1926.3" r="10.0" fill="none" stroke="#00008b" stroke-width="8.4"/>
<circle cx="2048.5" cy="1918.3" r="10.0" fill="none" stroke="#00008b" stroke-width="8.4"/>
<circle cx="2035.0" cy="1907.7" r="10.0" fill="none" stroke="#00008b" stroke-width="8.4"/>
<circle cx="2048.5" cy="1897.6" r="10.0" fill="none" stroke="#00008b" stroke-width="8.4"/>
<circle cx="2035.0" cy="1886.5" r="10.0" fill="none" stroke="#00008b" stroke-width="8.4"/>
<circle cx="2041.8" cy="1873.8" r="10.0" fill="none" stroke="#00008b" stroke-width="8.4"/>
<circle cx="2028.2" cy="1862.7" r="10.0" fill="none" stroke="#00008b" stroke-width="8.4"/>
<circle cx="2041.8" cy="1852.1" r="10.0" fill="none" stroke="#00008b" stroke-width="8.4"/>
<circle cx="2028.2" cy="1844.1" r="10.0" fill="none" stroke="#00008b" stroke-width="8.4"/>
<circle cx="2041.8" cy="1837.2" r="10.0" fill="none" stroke="#00008b" stroke-width="8.4"/>
<circle cx="2035.0" cy="1805.4" r="10.0" fill="none" stroke="#00008b" stroke-width="8.4"/>
<circle cx="2035.0" cy="1790.6" r="10.0" fill="none" stroke="#00008b" stroke-width="8.4"/>
<circle cx="2035.0" cy="1764.1" r="10.0" fill="none" stroke="#00008b" stroke-width="8.4"/>
<circle cx="2041.8" cy="1751.9" r="10.0" fill="none" stroke="#00008b" stroke-width="8.4"/>
<circle cx="2028.2" cy="1742.3" r="10.0" fill="none" stroke="#00008b" stroke-width="8.4"/>
<circle cx="2086.5" cy="2056.1" r="10.0" fill="none" stroke="#006400" stroke-width="8.4"/>
<circle cx="2100.5" cy="2055.0" r="10.0" fill="none" stroke="#006400" stroke-width="8.4"/>
<circle cx="2072.5" cy="2053.5" r="10.0" fill="none" stroke="#006400" stroke-width="8.4"/>
<circle cx="2086.5" cy="2040.2" r="10.0" fill="none" stroke="#006400" stroke-width="8.4"/>
<circle cx="2100.5" cy="2037.6" r="10.0" fill="none" stroke="#006400" stroke-width="8.4"/>
<circle cx="2086.5" cy="2024.3" r="10.0" fill="none" stroke="#006400" stroke-width="8.4"/>
<circle cx="2100.5" cy="2013.7" r="10.0" fill="none" stroke="#006400" stroke-width="8.4"/>
<circle cx="2086.5" cy="2003.1" r="10.0" fill="none" stroke="#006400" stroke-width="8.4"/>
<circle cx="2100.5" cy="1992.5" r="10.0" fill="none" stroke="#006400" stroke-width="8.4"/>
<circle cx="2086.5" cy="1983.0" r="10.0" fill="none" stroke="#006400" stroke-width="8.4"/>
<circle cx="2100.5" cy="1974.0" r="10.0" fill="none" stroke="#006400" stroke-width="8.4"/>
<circle cx="2086.5" cy="1964.9" r="10.0" fill="none" stroke="#006400" stroke-width="8.4"/>
<circle cx="2100.5" cy="1956.5" r="10.0" fill="none" stroke="#006400" stroke-width="8.4"/>
<circle cx="2086.5" cy="1949.0" r="10.0" fill="none" stroke="#006400" stroke-width="8.4"/>
<circle cx="2100.5" cy="1942.2" r="10.0" fill="none" stroke="#006400" stroke-width="8.4"/>
<circle cx="2079.5" cy="1935.3" r="10.0" fill="none" stroke="#006400" stroke-width="8.4"/>
<circle cx="2093.5" cy="1928.9" r="10.0" fill="none" stroke="#006400" stroke-width="8.4"/>
<circle cx="2072.5" cy="1922.5" r="10.0" fill="none" stroke="#006400" stroke-width="8.4"/>
<circle cx="2107.5" cy="1917.2" r="10.0" fill="none" stroke="#006400" stroke-width="8.4"/>
<circle cx="2086.5" cy="1911.9" r="10.0" fill="none" stroke="#006400" stroke-width="8.4"/>
<circle cx="2086.5" cy="1862.7" r="10.0" fill="none" stroke="#006400" stroke-width="8.4"/>
<circle cx="2100.5" cy="1857.4" r="10.0" fill="none" stroke="#006400" stroke-width="8.4"/>
<circle cx="2079.5" cy="1850.5" r="10.0" fill="none" stroke="#006400" stroke-width="8.4"/>
<circle cx="2086.5" cy="1740.8" r="10.0" fill="none" stroke="#006400" stroke-width="8.4"/>
<circle cx="2195.5" cy="1954.9" r="10.0" fill="none" stroke="#000" stroke-width="8.4"/>
<circle cx="2195.5" cy="1936.1" r="10.0" fill="none" stroke="#000" stroke-width="8.4"/>
<circle cx="2209.5" cy="1925.4" r="10.0" fill="none" stroke="#000" stroke-width="8.4"/>
<circle cx="2195.5" cy="1914.7" r="10.0" fill="none" stroke="#000" stroke-width="8.4"/>
<circle cx="2209.5" cy="1906.6" r="10.0" fill="none" stroke="#000" stroke-width="8.4"/>
<circle cx="2195.5" cy="1898.6" r="10.0" fill="none" stroke="#000" stroke-width="8.4"/>
<circle cx="2209.5" cy="1892.2" r="10.0" fill="none" stroke="#000" stroke-width="8.4"/>
<circle cx="2181.5" cy="1886.8" r="10.0" fill="none" stroke="#000" stroke-width="8.4"/>
<circle cx="2195.5" cy="1882.5" r="10.0" fill="none" stroke="#000" stroke-width="8.4"/>
<circle cx="2216.5" cy="1878.2" r="10.0" fill="none" stroke="#000" stroke-width="8.4"/>
<circle cx="2174.5" cy="1874.5" r="10.0" fill="none" stroke="#000" stroke-width="8.4"/>
<circle cx="2174.3" cy="1870.7" r="10.0" fill="none" stroke="#000" stroke-width="8.4"/>
<circle cx="2195.5" cy="1866.5" r="10.0" fill="none" stroke="#000" stroke-width="8.4"/>
<circle cx="2209.5" cy="1862.2" r="10.0" fill="none" stroke="#000" stroke-width="8.4"/>
<circle cx="2181.5" cy="1857.4" r="10.0" fill="none" stroke="#000" stroke-width="8.4"/>
<circle cx="2195.5" cy="1850.4" r="10.0" fill="none" stroke="#000" stroke-width="8.4"/>
<circle cx="2209.5" cy="1842.3" r="10.0" fill="none" stroke="#000" stroke-width="8.4"/>
<circle cx="2195.5" cy="1835.4" r="10.0" fill="none" stroke="#000" stroke-width="8.4"/>
<circle cx="2209.5" cy="1827.9" r="10.0" fill="none" stroke="#000" stroke-width="8.4"/>
<circle cx="2195.5" cy="1818.2" r="10.0" fill="none" stroke="#000" stroke-width="8.4"/>
<circle cx="2209.5" cy="1810.2" r="10.0" fill="none" stroke="#000" stroke-width="8.4"/>
<circle cx="2248.5" cy="2048.2" r="10.0" fill="none" stroke="#a50000" stroke-width="8.4"/>
<circle cx="2261.5" cy="2045.3" r="10.0" fill="none" stroke="#a50000" stroke-width="8.4"/>
<circle cx="2235.5" cy="2039.5" r="10.0" fill="none" stroke="#a50000" stroke-width="8.4"/>
<circle cx="2248.5" cy="2033.7" r="10.0" fill="none" stroke="#a50000" stroke-width="8.4"/>
<circle cx="2261.5" cy="2027.9" r="10.0" fill="none" stroke="#a50000" stroke-width="8.4"/>
<circle cx="2235.5" cy="2022.7" r="10.0" fill="none" stroke="#a50000" stroke-width="8.4"/>
<circle cx="2248.5" cy="2018.1" r="10.0" fill="none" stroke="#a50000" stroke-width="8.4"/>
<circle cx="2261.5" cy="2013.5" r="10.0" fill="none" stroke="#a50000" stroke-width="8.4"/>
<circle cx="2229.0" cy="2010.0" r="10.0" fill="none" stroke="#a50000" stroke-width="8.4"/>
<circle cx="2242.0" cy="2006.6" r="10.0" fill="none" stroke="#a50000" stroke-width="8.4"/>
<circle cx="2274.5" cy="2003.1" r="10.0" fill="none" stroke="#a50000" stroke-width="8.4"/>
<circle cx="2255.0" cy="2000.8" r="10.0" fill="none" stroke="#a50000" stroke-width="8.4"/>
<circle cx="2222.5" cy="1998.5" r="10.0" fill="none" stroke="#a50000" stroke-width="8.4"/>
<circle cx="2274.6" cy="1996.2" r="10.0" fill="none" stroke="#a50000" stroke-width="8.4"/>
<circle cx="2235.5" cy="1993.8" r="10.0" fill="none" stroke="#a50000" stroke-width="8.4"/>
<circle cx="2221.2" cy="1991.5" r="10.0" fill="none" stroke="#a50000" stroke-width="8.4"/>
<circle cx="2248.5" cy="1989.2" r="10.0" fill="none" stroke="#a50000" stroke-width="8.4"/>
<circle cx="2261.5" cy="1986.9" r="10.0" fill="none" stroke="#a50000" stroke-width="8.4"/>
<circle cx="2261.7" cy="1984.6" r="10.0" fill="none" stroke="#a50000" stroke-width="8.4"/>
<circle cx="2274.5" cy="1981.7" r="10.0" fill="none" stroke="#a50000" stroke-width="8.4"/>
<circle cx="2235.5" cy="1978.8" r="10.0" fill="none" stroke="#a50000" stroke-width="8.4"/>
<circle cx="2248.5" cy="1975.9" r="10.0" fill="none" stroke="#a50000" stroke-width="8.4"/>
<circle cx="2222.5" cy="1973.0" r="10.0" fill="none" stroke="#a50000" stroke-width="8.4"/>
<circle cx="2261.5" cy="1970.2" r="10.0" fill="none" stroke="#a50000" stroke-width="8.4"/>
<circle cx="2274.5" cy="1967.3" r="10.0" fill="none" stroke="#a50000" stroke-width="8.4"/>
<circle cx="2242.0" cy="1963.8" r="10.0" fill="none" stroke="#a50000" stroke-width="8.4"/>
<circle cx="2229.0" cy="1960.3" r="10.0" fill="none" stroke="#a50000" stroke-width="8.4"/>
<circle cx="2255.0" cy="1956.9" r="10.0" fill="none" stroke="#a50000" stroke-width="8.4"/>
<circle cx="2268.0" cy="1952.8" r="10.0" fill="none" stroke="#a50000" stroke-width="8.4"/>
<circle cx="2242.0" cy="1948.8" r="10.0" fill="none" stroke="#a50000" stroke-width="8.4"/>
<circle cx="2229.0" cy="1944.2" r="10.0" fill="none" stroke="#a50000" stroke-width="8.4"/>
<circle cx="2255.0" cy="1939.5" r="10.0" fill="none" stroke="#a50000" stroke-width="8.4"/>
<circle cx="2242.0" cy="1934.9" r="10.0" fill="none" stroke="#a50000" stroke-width="8.4"/>
<circle cx="2268.0" cy="1929.1" r="10.0" fill="none" stroke="#a50000" stroke-width="8.4"/>
<circle cx="2248.5" cy="1922.2" r="10.0" fill="none" stroke="#a50000" stroke-width="8.4"/>
<circle cx="2261.5" cy="1915.3" r="10.0" fill="none" stroke="#a50000" stroke-width="8.4"/>
<circle cx="2248.5" cy="1906.6" r="10.0" fill="none" stroke="#a50000" stroke-width="8.4"/>
<circle cx="2261.5" cy="1897.9" r="10.0" fill="none" stroke="#a50000" stroke-width="8.4"/>
<circle cx="2248.5" cy="1886.4" r="10.0" fill="none" stroke="#a50000" stroke-width="8.4"/>
<circle cx="2248.5" cy="1872.0" r="10.0" fill="none" stroke="#a50000" stroke-width="8.4"/>
<circle cx="2248.5" cy="1857.5" r="10.0" fill="none" stroke="#a50000" stroke-width="8.4"/>
<circle cx="2248.5" cy="1843.1" r="10.0" fill="none" stroke="#a50000" stroke-width="8.4"/>
<circle cx="2248.5" cy="1829.8" r="10.0" fill="none" stroke="#a50000" stroke-width="8.4"/>
<circle cx="2248.5" cy="1805.5" r="10.0" fill="none" stroke="#a50000" stroke-width="8.4"/>
<circle cx="2299.5" cy="2053.5" r="10.0" fill="none" stroke="#00008b" stroke-width="8.4"/>
<circle cx="2299.5" cy="2034.4" r="10.0" fill="none" stroke="#00008b" stroke-width="8.4"/>
<circle cx="2313.0" cy="2023.5" r="10.0" fill="none" stroke="#00008b" stroke-width="8.4"/>
<circle cx="2299.5" cy="2013.7" r="10.0" fill="none" stroke="#00008b" stroke-width="8.4"/>
<circle cx="2313.0" cy="2006.1" r="10.0" fill="none" stroke="#00008b" stroke-width="8.4"/>
<circle cx="2299.5" cy="1999.0" r="10.0" fill="none" stroke="#00008b" stroke-width="8.4"/>
<circle cx="2286.0" cy="1993.5" r="10.0" fill="none" stroke="#00008b" stroke-width="8.4"/>
<circle cx="2313.0" cy="1988.1" r="10.0" fill="none" stroke="#00008b" stroke-width="8.4"/>
<circle cx="2299.5" cy="1983.2" r="10.0" fill="none" stroke="#00008b" stroke-width="8.4"/>
<circle cx="2286.0" cy="1978.8" r="10.0" fill="none" stroke="#00008b" stroke-width="8.4"/>
<circle cx="2313.0" cy="1974.5" r="10.0" fill="none" stroke="#00008b" stroke-width="8.4"/>
<circle cx="2326.5" cy="1970.1" r="10.0" fill="none" stroke="#00008b" stroke-width="8.4"/>
<circle cx="2299.5" cy="1966.3" r="10.0" fill="none" stroke="#00008b" stroke-width="8.4"/>
<circle cx="2286.0" cy="1962.5" r="10.0" fill="none" stroke="#00008b" stroke-width="8.4"/>
<circle cx="2313.0" cy="1958.1" r="10.0" fill="none" stroke="#00008b" stroke-width="8.4"/>
<circle cx="2326.5" cy="1953.8" r="10.0" fill="none" stroke="#00008b" stroke-width="8.4"/>
<circle cx="2299.5" cy="1949.9" r="10.0" fill="none" stroke="#00008b" stroke-width="8.4"/>
<circle cx="2286.0" cy="1946.1" r="10.0" fill="none" stroke="#00008b" stroke-width="8.4"/>
<circle cx="2313.0" cy="1941.8" r="10.0" fill="none" stroke="#00008b" stroke-width="8.4"/>
<circle cx="2326.5" cy="1937.4" r="10.0" fill="none" stroke="#00008b" stroke-width="8.4"/>
<circle cx="2299.5" cy="1932.0" r="10.0" fill="none" stroke="#00008b" stroke-width="8.4"/>
<circle cx="2313.0" cy="1925.4" r="10.0" fill="none" stroke="#00008b" stroke-width="8.4"/>
<circle cx="2299.5" cy="1917.3" r="10.0" fill="none" stroke="#00008b" stroke-width="8.4"/>
<circle cx="2313.0" cy="1909.1" r="10.0" fill="none" stroke="#00008b" stroke-width="8.4"/>
<circle cx="2299.5" cy="1898.2" r="10.0" fill="none" stroke="#00008b" stroke-width="8.4"/>
<circle cx="2313.0" cy="1887.8" r="10.0" fill="none" stroke="#00008b" stroke-width="8.4"/>
<circle cx="2299.5" cy="1876.4" r="10.0" fill="none" stroke="#00008b" stroke-width="8.4"/>
<circle cx="2306.2" cy="1863.3" r="10.0" fill="none" stroke="#00008b" stroke-width="8.4"/>
<circle cx="2292.8" cy="1851.9" r="10.0" fill="none" stroke="#00008b" stroke-width="8.4"/>
<circle cx="2306.2" cy="1841.0" r="10.0" fill="none" stroke="#00008b" stroke-width="8.4"/>
<circle cx="2292.8" cy="1832.8" r="10.0" fill="none" stroke="#00008b" stroke-width="8.4"/>
<circle cx="2306.2" cy="1825.7" r="10.0" fill="none" stroke="#00008b" stroke-width="8.4"/>
<circle cx="2299.5" cy="1793.0" r="10.0" fill="none" stroke="#00008b" stroke-width="8.4"/>
<circle cx="2299.5" cy="1777.8" r="10.0" fill="none" stroke="#00008b" stroke-width="8.4"/>
<circle cx="2299.5" cy="1750.5" r="10.0" fill="none" stroke="#00008b" stroke-width="8.4"/>
<circle cx="2306.2" cy="1738.0" r="10.0" fill="none" stroke="#00008b" stroke-width="8.4"/>
<circle cx="2292.8" cy="1728.2" r="10.0" fill="none" stroke="#00008b" stroke-width="8.4"/>
<circle cx="2351.0" cy="2050.8" r="10.0" fill="none" stroke="#006400" stroke-width="8.4"/>
<circle cx="2365.0" cy="2049.7" r="10.0" fill="none" stroke="#006400" stroke-width="8.4"/>
<circle cx="2337.0" cy="2048.2" r="10.0" fill="none" stroke="#006400" stroke-width="8.4"/>
<circle cx="2351.0" cy="2034.9" r="10.0" fill="none" stroke="#006400" stroke-width="8.4"/>
<circle cx="2358.0" cy="2021.7" r="10.0" fill="none" stroke="#006400" stroke-width="8.4"/>
<circle cx="2351.0" cy="2009.5" r="10.0" fill="none" stroke="#006400" stroke-width="8.4"/>
<circle cx="2365.0" cy="1997.8" r="10.0" fill="none" stroke="#006400" stroke-width="8.4"/>
<circle cx="2351.0" cy="1987.2" r="10.0" fill="none" stroke="#006400" stroke-width="8.4"/>
<circle cx="2365.0" cy="1976.6" r="10.0" fill="none" stroke="#006400" stroke-width="8.4"/>
<circle cx="2351.0" cy="1966.0" r="10.0" fill="none" stroke="#006400" stroke-width="8.4"/>
<circle cx="2365.0" cy="1956.5" r="10.0" fill="none" stroke="#006400" stroke-width="8.4"/>
<circle cx="2351.0" cy="1947.5" r="10.0" fill="none" stroke="#006400" stroke-width="8.4"/>
<circle cx="2365.0" cy="1939.5" r="10.0" fill="none" stroke="#006400" stroke-width="8.4"/>
<circle cx="2351.0" cy="1931.6" r="10.0" fill="none" stroke="#006400" stroke-width="8.4"/>
<circle cx="2365.0" cy="1923.6" r="10.0" fill="none" stroke="#006400" stroke-width="8.4"/>
<circle cx="2351.0" cy="1915.7" r="10.0" fill="none" stroke="#006400" stroke-width="8.4"/>
<circle cx="2365.0" cy="1907.7" r="10.0" fill="none" stroke="#006400" stroke-width="8.4"/>
<circle cx="2351.0" cy="1899.8" r="10.0" fill="none" stroke="#006400" stroke-width="8.4"/>
<circle cx="2337.0" cy="1894.5" r="10.0" fill="none" stroke="#006400" stroke-width="8.4"/>
<circle cx="2365.0" cy="1889.2" r="10.0" fill="none" stroke="#006400" stroke-width="8.4"/>
<circle cx="2351.0" cy="1844.1" r="10.0" fill="none" stroke="#006400" stroke-width="8.4"/>
<circle cx="2351.0" cy="1820.3" r="10.0" fill="none" stroke="#006400" stroke-width="8.4"/>
<circle cx="2351.0" cy="1740.8" r="10.0" fill="none" stroke="#006400" stroke-width="8.4"/>
<circle cx="2351.0" cy="1711.6" r="10.0" fill="none" stroke="#006400" stroke-width="8.4"/>
<circle cx="2460.5" cy="1936.3" r="10.0" fill="none" stroke="#000" stroke-width="8.4"/>
<circle cx="2460.5" cy="1917.7" r="10.0" fill="none" stroke="#000" stroke-width="8.4"/>
<circle cx="2474.5" cy="1907.1" r="10.0" fill="none" stroke="#000" stroke-width="8.4"/>
<circle cx="2460.5" cy="1896.4" r="10.0" fill="none" stroke="#000" stroke-width="8.4"/>
<circle cx="2474.5" cy="1888.4" r="10.0" fill="none" stroke="#000" stroke-width="8.4"/>
<circle cx="2460.5" cy="1880.5" r="10.0" fill="none" stroke="#000" stroke-width="8.4"/>
<circle cx="2474.5" cy="1874.1" r="10.0" fill="none" stroke="#000" stroke-width="8.4"/>
<circle cx="2446.5" cy="1868.8" r="10.0" fill="none" stroke="#000" stroke-width="8.4"/>
<circle cx="2460.5" cy="1864.5" r="10.0" fill="none" stroke="#000" stroke-width="8.4"/>
<circle cx="2481.5" cy="1860.2" r="10.0" fill="none" stroke="#000" stroke-width="8.4"/>
<circle cx="2439.5" cy="1856.5" r="10.0" fill="none" stroke="#000" stroke-width="8.4"/>
<circle cx="2443.3" cy="1852.8" r="10.0" fill="none" stroke="#000" stroke-width="8.4"/>
<circle cx="2460.5" cy="1848.5" r="10.0" fill="none" stroke="#000" stroke-width="8.4"/>
<circle cx="2474.5" cy="1844.3" r="10.0" fill="none" stroke="#000" stroke-width="8.4"/>
<circle cx="2469.2" cy="1839.5" r="10.0" fill="none" stroke="#000" stroke-width="8.4"/>
<circle cx="2453.5" cy="1832.6" r="10.0" fill="none" stroke="#000" stroke-width="8.4"/>
<circle cx="2467.5" cy="1824.6" r="10.0" fill="none" stroke="#000" stroke-width="8.4"/>
<circle cx="2453.5" cy="1817.7" r="10.0" fill="none" stroke="#000" stroke-width="8.4"/>
<circle cx="2467.5" cy="1810.2" r="10.0" fill="none" stroke="#000" stroke-width="8.4"/>
<circle cx="2453.5" cy="1800.6" r="10.0" fill="none" stroke="#000" stroke-width="8.4"/>
<circle cx="2467.5" cy="1792.7" r="10.0" fill="none" stroke="#000" stroke-width="8.4"/>
<circle cx="2513.5" cy="2032.8" r="10.0" fill="none" stroke="#a50000" stroke-width="8.4"/>
<circle cx="2526.5" cy="2029.9" r="10.0" fill="none" stroke="#a50000" stroke-width="8.4"/>
<circle cx="2500.5" cy="2024.0" r="10.0" fill="none" stroke="#a50000" stroke-width="8.4"/>
<circle cx="2513.5" cy="2018.2" r="10.0" fill="none" stroke="#a50000" stroke-width="8.4"/>
<circle cx="2526.5" cy="2012.4" r="10.0" fill="none" stroke="#a50000" stroke-width="8.4"/>
<circle cx="2500.5" cy="2007.1" r="10.0" fill="none" stroke="#a50000" stroke-width="8.4"/>
<circle cx="2513.5" cy="2002.5" r="10.0" fill="none" stroke="#a50000" stroke-width="8.4"/>
<circle cx="2526.5" cy="1997.8" r="10.0" fill="none" stroke="#a50000" stroke-width="8.4"/>
<circle cx="2494.0" cy="1994.3" r="10.0" fill="none" stroke="#a50000" stroke-width="8.4"/>
<circle cx="2507.0" cy="1990.8" r="10.0" fill="none" stroke="#a50000" stroke-width="8.4"/>
<circle cx="2539.5" cy="1987.3" r="10.0" fill="none" stroke="#a50000" stroke-width="8.4"/>
<circle cx="2520.0" cy="1985.0" r="10.0" fill="none" stroke="#a50000" stroke-width="8.4"/>
<circle cx="2487.5" cy="1982.6" r="10.0" fill="none" stroke="#a50000" stroke-width="8.4"/>
<circle cx="2523.4" cy="1980.3" r="10.0" fill="none" stroke="#a50000" stroke-width="8.4"/>
<circle cx="2500.5" cy="1978.0" r="10.0" fill="none" stroke="#a50000" stroke-width="8.4"/>
<circle cx="2529.5" cy="1975.6" r="10.0" fill="none" stroke="#a50000" stroke-width="8.4"/>
<circle cx="2514.6" cy="1973.3" r="10.0" fill="none" stroke="#a50000" stroke-width="8.4"/>
<circle cx="2514.1" cy="1971.0" r="10.0" fill="none" stroke="#a50000" stroke-width="8.4"/>
<circle cx="2487.5" cy="1968.7" r="10.0" fill="none" stroke="#a50000" stroke-width="8.4"/>
<circle cx="2539.5" cy="1965.7" r="10.0" fill="none" stroke="#a50000" stroke-width="8.4"/>
<circle cx="2526.5" cy="1962.8" r="10.0" fill="none" stroke="#a50000" stroke-width="8.4"/>
<circle cx="2507.0" cy="1959.9" r="10.0" fill="none" stroke="#a50000" stroke-width="8.4"/>
<circle cx="2494.0" cy="1957.0" r="10.0" fill="none" stroke="#a50000" stroke-width="8.4"/>
<circle cx="2507.5" cy="1954.1" r="10.0" fill="none" stroke="#a50000" stroke-width="8.4"/>
<circle cx="2533.0" cy="1951.2" r="10.0" fill="none" stroke="#a50000" stroke-width="8.4"/>
<circle cx="2520.0" cy="1947.7" r="10.0" fill="none" stroke="#a50000" stroke-width="8.4"/>
<circle cx="2487.5" cy="1944.2" r="10.0" fill="none" stroke="#a50000" stroke-width="8.4"/>
<circle cx="2507.0" cy="1940.7" r="10.0" fill="none" stroke="#a50000" stroke-width="8.4"/>
<circle cx="2533.0" cy="1936.6" r="10.0" fill="none" stroke="#a50000" stroke-width="8.4"/>
<circle cx="2520.0" cy="1932.5" r="10.0" fill="none" stroke="#a50000" stroke-width="8.4"/>
<circle cx="2500.5" cy="1927.8" r="10.0" fill="none" stroke="#a50000" stroke-width="8.4"/>
<circle cx="2533.0" cy="1923.2" r="10.0" fill="none" stroke="#a50000" stroke-width="8.4"/>
<circle cx="2513.5" cy="1918.5" r="10.0" fill="none" stroke="#a50000" stroke-width="8.4"/>
<circle cx="2500.5" cy="1912.7" r="10.0" fill="none" stroke="#a50000" stroke-width="8.4"/>
<circle cx="2520.0" cy="1905.7" r="10.0" fill="none" stroke="#a50000" stroke-width="8.4"/>
<circle cx="2507.0" cy="1898.7" r="10.0" fill="none" stroke="#a50000" stroke-width="8.4"/>
<circle cx="2520.0" cy="1889.9" r="10.0" fill="none" stroke="#a50000" stroke-width="8.4"/>
<circle cx="2507.0" cy="1881.2" r="10.0" fill="none" stroke="#a50000" stroke-width="8.4"/>
<circle cx="2513.5" cy="1869.5" r="10.0" fill="none" stroke="#a50000" stroke-width="8.4"/>
<circle cx="2513.5" cy="1855.0" r="10.0" fill="none" stroke="#a50000" stroke-width="8.4"/>
<circle cx="2513.5" cy="1840.4" r="10.0" fill="none" stroke="#a50000" stroke-width="8.4"/>
<circle cx="2513.5" cy="1825.8" r="10.0" fill="none" stroke="#a50000" stroke-width="8.4"/>
<circle cx="2513.5" cy="1812.4" r="10.0" fill="none" stroke="#a50000" stroke-width="8.4"/>
<circle cx="2513.5" cy="1787.9" r="10.0" fill="none" stroke="#a50000" stroke-width="8.4"/>
<circle cx="2564.5" cy="2042.9" r="10.0" fill="none" stroke="#00008b" stroke-width="8.4"/>
<circle cx="2564.5" cy="2024.3" r="10.0" fill="none" stroke="#00008b" stroke-width="8.4"/>
<circle cx="2578.0" cy="2013.7" r="10.0" fill="none" stroke="#00008b" stroke-width="8.4"/>
<circle cx="2564.5" cy="2004.2" r="10.0" fill="none" stroke="#00008b" stroke-width="8.4"/>
<circle cx="2578.0" cy="1996.7" r="10.0" fill="none" stroke="#00008b" stroke-width="8.4"/>
<circle cx="2564.5" cy="1989.9" r="10.0" fill="none" stroke="#00008b" stroke-width="8.4"/>
<circle cx="2551.0" cy="1984.0" r="10.0" fill="none" stroke="#00008b" stroke-width="8.4"/>
<circle cx="2578.0" cy="1978.7" r="10.0" fill="none" stroke="#00008b" stroke-width="8.4"/>
<circle cx="2564.5" cy="1974.0" r="10.0" fill="none" stroke="#00008b" stroke-width="8.4"/>
<circle cx="2551.0" cy="1969.2" r="10.0" fill="none" stroke="#00008b" stroke-width="8.4"/>
<circle cx="2578.0" cy="1964.9" r="10.0" fill="none" stroke="#00008b" stroke-width="8.4"/>
<circle cx="2591.5" cy="1960.7" r="10.0" fill="none" stroke="#00008b" stroke-width="8.4"/>
<circle cx="2564.5" cy="1956.5" r="10.0" fill="none" stroke="#00008b" stroke-width="8.4"/>
<circle cx="2551.0" cy="1952.2" r="10.0" fill="none" stroke="#00008b" stroke-width="8.4"/>
<circle cx="2578.0" cy="1948.0" r="10.0" fill="none" stroke="#00008b" stroke-width="8.4"/>
<circle cx="2591.5" cy="1943.2" r="10.0" fill="none" stroke="#00008b" stroke-width="8.4"/>
<circle cx="2564.5" cy="1938.4" r="10.0" fill="none" stroke="#00008b" stroke-width="8.4"/>
<circle cx="2578.0" cy="1933.1" r="10.0" fill="none" stroke="#00008b" stroke-width="8.4"/>
<circle cx="2551.0" cy="1927.8" r="10.0" fill="none" stroke="#00008b" stroke-width="8.4"/>
<circle cx="2564.5" cy="1921.5" r="10.0" fill="none" stroke="#00008b" stroke-width="8.4"/>
<circle cx="2578.0" cy="1914.1" r="10.0" fill="none" stroke="#00008b" stroke-width="8.4"/>
<circle cx="2564.5" cy="1905.1" r="10.0" fill="none" stroke="#00008b" stroke-width="8.4"/>
<circle cx="2578.0" cy="1894.5" r="10.0" fill="none" stroke="#00008b" stroke-width="8.4"/>
<circle cx="2564.5" cy="1881.2" r="10.0" fill="none" stroke="#00008b" stroke-width="8.4"/>
<circle cx="2564.5" cy="1865.3" r="10.0" fill="none" stroke="#00008b" stroke-width="8.4"/>
<circle cx="2564.5" cy="1849.4" r="10.0" fill="none" stroke="#00008b" stroke-width="8.4"/>
<circle cx="2578.0" cy="1838.8" r="10.0" fill="none" stroke="#00008b" stroke-width="8.4"/>
<circle cx="2564.5" cy="1828.2" r="10.0" fill="none" stroke="#00008b" stroke-width="8.4"/>
<circle cx="2564.5" cy="1785.8" r="10.0" fill="none" stroke="#00008b" stroke-width="8.4"/>
<circle cx="2578.0" cy="1776.3" r="10.0" fill="none" stroke="#00008b" stroke-width="8.4"/>
<circle cx="2551.0" cy="1774.1" r="10.0" fill="none" stroke="#00008b" stroke-width="8.4"/>
<circle cx="2564.5" cy="1772.0" r="10.0" fill="none" stroke="#00008b" stroke-width="8.4"/>
<circle cx="2591.5" cy="1769.9" r="10.0" fill="none" stroke="#00008b" stroke-width="8.4"/>
<circle cx="2564.5" cy="1743.4" r="10.0" fill="none" stroke="#00008b" stroke-width="8.4"/>
<circle cx="2578.0" cy="1732.8" r="10.0" fill="none" stroke="#00008b" stroke-width="8.4"/>
<circle cx="2564.5" cy="1722.2" r="10.0" fill="none" stroke="#00008b" stroke-width="8.4"/>
<circle cx="2578.0" cy="1714.3" r="10.0" fill="none" stroke="#00008b" stroke-width="8.4"/>
<circle cx="2616.0" cy="2042.9" r="10.0" fill="none" stroke="#006400" stroke-width="8.4"/>
<circle cx="2630.0" cy="2042.3" r="10.0" fill="none" stroke="#006400" stroke-width="8.4"/>
<circle cx="2602.0" cy="2041.3" r="10.0" fill="none" stroke="#006400" stroke-width="8.4"/>
<circle cx="2616.0" cy="2024.3" r="10.0" fill="none" stroke="#006400" stroke-width="8.4"/>
<circle cx="2630.0" cy="2019.0" r="10.0" fill="none" stroke="#006400" stroke-width="8.4"/>
<circle cx="2616.0" cy="2005.8" r="10.0" fill="none" stroke="#006400" stroke-width="8.4"/>
<circle cx="2623.0" cy="1992.5" r="10.0" fill="none" stroke="#006400" stroke-width="8.4"/>
<circle cx="2609.0" cy="1980.8" r="10.0" fill="none" stroke="#006400" stroke-width="8.4"/>
<circle cx="2616.0" cy="1968.7" r="10.0" fill="none" stroke="#006400" stroke-width="8.4"/>
<circle cx="2630.0" cy="1958.1" r="10.0" fill="none" stroke="#006400" stroke-width="8.4"/>
<circle cx="2616.0" cy="1947.5" r="10.0" fill="none" stroke="#006400" stroke-width="8.4"/>
<circle cx="2630.0" cy="1938.4" r="10.0" fill="none" stroke="#006400" stroke-width="8.4"/>
<circle cx="2616.0" cy="1928.9" r="10.0" fill="none" stroke="#006400" stroke-width="8.4"/>
<circle cx="2630.0" cy="1921.0" r="10.0" fill="none" stroke="#006400" stroke-width="8.4"/>
<circle cx="2616.0" cy="1913.0" r="10.0" fill="none" stroke="#006400" stroke-width="8.4"/>
<circle cx="2630.0" cy="1905.1" r="10.0" fill="none" stroke="#006400" stroke-width="8.4"/>
<circle cx="2616.0" cy="1897.1" r="10.0" fill="none" stroke="#006400" stroke-width="8.4"/>
<circle cx="2630.0" cy="1889.2" r="10.0" fill="none" stroke="#006400" stroke-width="8.4"/>
<circle cx="2616.0" cy="1881.2" r="10.0" fill="none" stroke="#006400" stroke-width="8.4"/>
<circle cx="2630.0" cy="1870.6" r="10.0" fill="none" stroke="#006400" stroke-width="8.4"/>
<circle cx="2616.0" cy="1838.8" r="10.0" fill="none" stroke="#006400" stroke-width="8.4"/>
<circle cx="2616.0" cy="1799.1" r="10.0" fill="none" stroke="#006400" stroke-width="8.4"/>
<circle cx="2616.0" cy="1703.7" r="10.0" fill="none" stroke="#006400" stroke-width="8.4"/>
<circle cx="2623.0" cy="1691.5" r="10.0" fill="none" stroke="#006400" stroke-width="8.4"/>
<line x1="1877.00" y1="1570.00" x2="1877.00" y2="2107.60" stroke="#000" stroke-width="8.0" stroke-linecap="butt" />
<line x1="1859.60" y1="2103.80" x2="2677.60" y2="2103.80" stroke="#000" stroke-width="7.6" stroke-linecap="butt" />
<line x1="1859.60" y1="2103.80" x2="1877.00" y2="2103.80" stroke="#000" stroke-width="7.8" stroke-linecap="butt" />
<line x1="1859.60" y1="1997.80" x2="1877.00" y2="1997.80" stroke="#000" stroke-width="7.8" stroke-linecap="butt" />
<line x1="1859.60" y1="1891.80" x2="1877.00" y2="1891.80" stroke="#000" stroke-width="7.8" stroke-linecap="butt" />
<line x1="1859.60" y1="1785.80" x2="1877.00" y2="1785.80" stroke="#000" stroke-width="7.8" stroke-linecap="butt" />
<line x1="1859.60" y1="1679.80" x2="1877.00" y2="1679.80" stroke="#000" stroke-width="7.8" stroke-linecap="butt" />
<line x1="1859.60" y1="1573.80" x2="1877.00" y2="1573.80" stroke="#000" stroke-width="7.8" stroke-linecap="butt" />
<line x1="2009.50" y1="2103.80" x2="2009.50" y2="2121.80" stroke="#000" stroke-width="7.6" stroke-linecap="butt" />
<line x1="2273.80" y1="2103.80" x2="2273.80" y2="2121.80" stroke="#000" stroke-width="7.6" stroke-linecap="butt" />
<line x1="2539.20" y1="2103.80" x2="2539.20" y2="2121.80" stroke="#000" stroke-width="7.6" stroke-linecap="butt" />
<line x1="1905.80" y1="1905.60" x2="1956.20" y2="1905.60" stroke="#ff6f0a" stroke-width="8.6" stroke-linecap="butt" />
<line x1="1931.00" y1="1899.10" x2="1931.00" y2="1912.10" stroke="#ff6f0a" stroke-width="6.88" stroke-linecap="butt" />
<line x1="1918.60" y1="1899.10" x2="1943.40" y2="1899.10" stroke="#ff6f0a" stroke-width="8.6" stroke-linecap="butt" />
<line x1="1918.60" y1="1912.10" x2="1943.40" y2="1912.10" stroke="#ff6f0a" stroke-width="8.6" stroke-linecap="butt" />
<line x1="1958.80" y1="1974.30" x2="2009.20" y2="1974.30" stroke="#ff6f0a" stroke-width="8.6" stroke-linecap="butt" />
<line x1="1984.00" y1="1968.80" x2="1984.00" y2="1979.80" stroke="#ff6f0a" stroke-width="6.88" stroke-linecap="butt" />
<line x1="1971.60" y1="1968.80" x2="1996.40" y2="1968.80" stroke="#ff6f0a" stroke-width="8.6" stroke-linecap="butt" />
<line x1="1971.60" y1="1979.80" x2="1996.40" y2="1979.80" stroke="#ff6f0a" stroke-width="8.6" stroke-linecap="butt" />
<line x1="2009.80" y1="1928.50" x2="2060.20" y2="1928.50" stroke="#ff6f0a" stroke-width="8.6" stroke-linecap="butt" />
<line x1="2035.00" y1="1914.00" x2="2035.00" y2="1943.00" stroke="#ff6f0a" stroke-width="6.88" stroke-linecap="butt" />
<line x1="2022.60" y1="1914.00" x2="2047.40" y2="1914.00" stroke="#ff6f0a" stroke-width="8.6" stroke-linecap="butt" />
<line x1="2022.60" y1="1943.00" x2="2047.40" y2="1943.00" stroke="#ff6f0a" stroke-width="8.6" stroke-linecap="butt" />
<line x1="2061.30" y1="1965.40" x2="2111.70" y2="1965.40" stroke="#ff6f0a" stroke-width="8.6" stroke-linecap="butt" />
<line x1="2086.50" y1="1951.40" x2="2086.50" y2="1979.40" stroke="#ff6f0a" stroke-width="6.88" stroke-linecap="butt" />
<line x1="2074.10" y1="1951.40" x2="2098.90" y2="1951.40" stroke="#ff6f0a" stroke-width="8.6" stroke-linecap="butt" />
<line x1="2074.10" y1="1979.40" x2="2098.90" y2="1979.40" stroke="#ff6f0a" stroke-width="8.6" stroke-linecap="butt" />
<line x1="2170.30" y1="1886.30" x2="2220.70" y2="1886.30" stroke="#ff6f0a" stroke-width="8.6" stroke-linecap="butt" />
<line x1="2195.50" y1="1879.80" x2="2195.50" y2="1892.80" stroke="#ff6f0a" stroke-width="6.88" stroke-linecap="butt" />
<line x1="2183.10" y1="1879.80" x2="2207.90" y2="1879.80" stroke="#ff6f0a" stroke-width="8.6" stroke-linecap="butt" />
<line x1="2183.10" y1="1892.80" x2="2207.90" y2="1892.80" stroke="#ff6f0a" stroke-width="8.6" stroke-linecap="butt" />
<line x1="2223.30" y1="1961.80" x2="2273.70" y2="1961.80" stroke="#ff6f0a" stroke-width="8.6" stroke-linecap="butt" />
<line x1="2248.50" y1="1956.30" x2="2248.50" y2="1967.30" stroke="#ff6f0a" stroke-width="6.88" stroke-linecap="butt" />
<line x1="2236.10" y1="1956.30" x2="2260.90" y2="1956.30" stroke="#ff6f0a" stroke-width="8.6" stroke-linecap="butt" />
<line x1="2236.10" y1="1967.30" x2="2260.90" y2="1967.30" stroke="#ff6f0a" stroke-width="8.6" stroke-linecap="butt" />
<line x1="2274.30" y1="1912.90" x2="2324.70" y2="1912.90" stroke="#ff6f0a" stroke-width="8.6" stroke-linecap="butt" />
<line x1="2299.50" y1="1899.40" x2="2299.50" y2="1926.40" stroke="#ff6f0a" stroke-width="6.88" stroke-linecap="butt" />
<line x1="2287.10" y1="1899.40" x2="2311.90" y2="1899.40" stroke="#ff6f0a" stroke-width="8.6" stroke-linecap="butt" />
<line x1="2287.10" y1="1926.40" x2="2311.90" y2="1926.40" stroke="#ff6f0a" stroke-width="8.6" stroke-linecap="butt" />
<line x1="2325.80" y1="1939.50" x2="2376.20" y2="1939.50" stroke="#ff6f0a" stroke-width="8.6" stroke-linecap="butt" />
<line x1="2351.00" y1="1924.50" x2="2351.00" y2="1954.50" stroke="#ff6f0a" stroke-width="6.88" stroke-linecap="butt" />
<line x1="2338.60" y1="1924.50" x2="2363.40" y2="1924.50" stroke="#ff6f0a" stroke-width="8.6" stroke-linecap="butt" />
<line x1="2338.60" y1="1954.50" x2="2363.40" y2="1954.50" stroke="#ff6f0a" stroke-width="8.6" stroke-linecap="butt" />
<line x1="2435.30" y1="1869.10" x2="2485.70" y2="1869.10" stroke="#ff6f0a" stroke-width="8.6" stroke-linecap="butt" />
<line x1="2460.50" y1="1863.10" x2="2460.50" y2="1875.10" stroke="#ff6f0a" stroke-width="6.88" stroke-linecap="butt" />
<line x1="2448.10" y1="1863.10" x2="2472.90" y2="1863.10" stroke="#ff6f0a" stroke-width="8.6" stroke-linecap="butt" />
<line x1="2448.10" y1="1875.10" x2="2472.90" y2="1875.10" stroke="#ff6f0a" stroke-width="8.6" stroke-linecap="butt" />
<line x1="2488.30" y1="1949.50" x2="2538.70" y2="1949.50" stroke="#ff6f0a" stroke-width="8.6" stroke-linecap="butt" />
<line x1="2513.50" y1="1944.50" x2="2513.50" y2="1954.50" stroke="#ff6f0a" stroke-width="6.88" stroke-linecap="butt" />
<line x1="2501.10" y1="1944.50" x2="2525.90" y2="1944.50" stroke="#ff6f0a" stroke-width="8.6" stroke-linecap="butt" />
<line x1="2501.10" y1="1954.50" x2="2525.90" y2="1954.50" stroke="#ff6f0a" stroke-width="8.6" stroke-linecap="butt" />
<line x1="2539.30" y1="1899.50" x2="2589.70" y2="1899.50" stroke="#ff6f0a" stroke-width="8.6" stroke-linecap="butt" />
<line x1="2564.50" y1="1885.00" x2="2564.50" y2="1914.00" stroke="#ff6f0a" stroke-width="6.88" stroke-linecap="butt" />
<line x1="2552.10" y1="1885.00" x2="2576.90" y2="1885.00" stroke="#ff6f0a" stroke-width="8.6" stroke-linecap="butt" />
<line x1="2552.10" y1="1914.00" x2="2576.90" y2="1914.00" stroke="#ff6f0a" stroke-width="8.6" stroke-linecap="butt" />
<line x1="2590.80" y1="1931.50" x2="2641.20" y2="1931.50" stroke="#ff6f0a" stroke-width="8.6" stroke-linecap="butt" />
<line x1="2616.00" y1="1916.50" x2="2616.00" y2="1946.50" stroke="#ff6f0a" stroke-width="6.88" stroke-linecap="butt" />
<line x1="2603.60" y1="1916.50" x2="2628.40" y2="1916.50" stroke="#ff6f0a" stroke-width="8.6" stroke-linecap="butt" />
<line x1="2603.60" y1="1946.50" x2="2628.40" y2="1946.50" stroke="#ff6f0a" stroke-width="8.6" stroke-linecap="butt" />
<text transform="translate(1723.95,1595.90) scale(0.9901,1)" font-size="59" font-weight="bold" fill="#000">1000</text>
<text transform="translate(1756.50,1701.90) scale(0.9894,1)" font-size="59" font-weight="bold" fill="#000">800</text>
<text transform="translate(1756.20,1807.90) scale(0.9925,1)" font-size="59" font-weight="bold" fill="#000">600</text>
<text transform="translate(1756.12,1913.90) scale(0.9934,1)" font-size="59" font-weight="bold" fill="#000">400</text>
<text transform="translate(1755.54,2019.90) scale(0.9995,1)" font-size="59" font-weight="bold" fill="#000">200</text>
<text transform="translate(1822.24,2127.40) scale(0.9991,1)" font-size="59" font-weight="bold" fill="#000">0</text>
<text transform="translate(1715.00,1962.94) rotate(-90) scale(0.9775,1)" font-size="59" font-weight="bold" fill="#000">APD (ms)</text>
<text transform="translate(1922.22,2181.30) scale(0.9948,1)" font-size="59.5" font-weight="bold" fill="#000">APD</text>
<text transform="translate(2047.45,2196.00) scale(0.9506,1)" font-size="46" font-weight="normal" fill="#000">50</text>
<text transform="translate(2186.72,2181.30) scale(0.9981,1)" font-size="59.5" font-weight="bold" fill="#000">APD</text>
<text transform="translate(2312.48,2196.00) scale(0.9622,1)" font-size="46" font-weight="normal" fill="#000">70</text>
<text transform="translate(2452.52,2181.30) scale(0.9981,1)" font-size="59.5" font-weight="bold" fill="#000">APD</text>
<text transform="translate(2577.79,2196.00) scale(0.9639,1)" font-size="46" font-weight="normal" fill="#000">90</text>
<text transform="translate(2765.65,1602.40) scale(1.0133,1)" font-size="58" font-weight="bold" fill="#000">CON</text>
<circle cx="2705.9" cy="1582.0" r="11.0" fill="none" stroke="#000" stroke-width="7.2"/>
<text transform="translate(2766.40,1663.43) scale(0.9703,1)" font-size="58" font-weight="bold" fill="#a50000">Patient</text>
<circle cx="2705.9" cy="1643.0" r="11.0" fill="none" stroke="#a50000" stroke-width="7.2"/>
<text transform="translate(2765.69,1724.46) scale(0.9963,1)" font-size="58" font-weight="bold" fill="#00008b">GC</text>
<circle cx="2705.9" cy="1704.1" r="11.0" fill="none" stroke="#00008b" stroke-width="7.2"/>
<text transform="translate(2766.29,1785.49) scale(1.0000,1)" font-size="58" font-weight="bold" fill="#006400">KO</text>
<circle cx="2705.9" cy="1765.1" r="11.0" fill="none" stroke="#006400" stroke-width="7.2"/>
<text transform="translate(1990.26,1586.94) scale(1.0358,1)" font-size="53" font-weight="bold" fill="#000">**</text>
<line x1="1932.70" y1="1593.00" x2="2097.40" y2="1593.00" stroke="#000" stroke-width="8.0" stroke-linecap="butt" />
<text transform="translate(1992.76,1700.74) scale(1.0260,1)" font-size="53" font-weight="bold" fill="#000">**</text>
<line x1="1983.40" y1="1701.30" x2="2041.20" y2="1701.30" stroke="#000" stroke-width="8.0" stroke-linecap="butt" />
<text transform="translate(1918.06,1757.94) scale(1.0720,1)" font-size="53" font-weight="bold" fill="#000">***</text>
<line x1="1922.20" y1="1757.30" x2="1980.30" y2="1757.30" stroke="#000" stroke-width="8.0" stroke-linecap="butt" />
<text transform="translate(2265.66,1585.84) scale(1.0602,1)" font-size="53" font-weight="bold" fill="#000">**</text>
<line x1="2212.20" y1="1591.10" x2="2365.70" y2="1591.10" stroke="#000" stroke-width="8.0" stroke-linecap="butt" />
<text transform="translate(2260.26,1689.24) scale(1.0602,1)" font-size="53" font-weight="bold" fill="#000">**</text>
<line x1="2251.20" y1="1688.00" x2="2309.80" y2="1688.00" stroke="#000" stroke-width="8.0" stroke-linecap="butt" />
<text transform="translate(2177.46,1757.44) scale(1.0634,1)" font-size="53" font-weight="bold" fill="#000">****</text>
<line x1="2190.10" y1="1757.00" x2="2248.90" y2="1757.00" stroke="#000" stroke-width="8.0" stroke-linecap="butt" />
<text transform="translate(2518.36,1585.84) scale(1.0431,1)" font-size="53" font-weight="bold" fill="#000">**</text>
<line x1="2464.40" y1="1594.90" x2="2620.80" y2="1594.90" stroke="#000" stroke-width="8.0" stroke-linecap="butt" />
<text transform="translate(2504.26,1665.34) scale(1.0866,1)" font-size="53" font-weight="bold" fill="#000">***</text>
<line x1="2509.10" y1="1664.20" x2="2567.20" y2="1664.20" stroke="#000" stroke-width="8.0" stroke-linecap="butt" />
<text transform="translate(2440.76,1757.44) scale(1.0865,1)" font-size="53" font-weight="bold" fill="#000">****</text>
<line x1="2455.70" y1="1756.70" x2="2513.80" y2="1756.70" stroke="#000" stroke-width="8.0" stroke-linecap="butt" />
<text transform="translate(56.81,90.40) scale(1.0199,1)" font-size="78" font-weight="bold" fill="#000">A</text>
<text transform="translate(987.04,90.40) scale(0.9416,1)" font-size="78" font-weight="bold" fill="#000">B</text>
<text transform="translate(1936.86,91.00) scale(0.9434,1)" font-size="78" font-weight="bold" fill="#000">C</text>
<text transform="translate(55.77,802.30) scale(0.9942,1)" font-size="78" font-weight="bold" fill="#000">D</text>
<text transform="translate(986.88,802.30) scale(0.9730,1)" font-size="78" font-weight="bold" fill="#000">E</text>
<text transform="translate(1939.85,802.00) scale(0.9397,1)" font-size="78" font-weight="bold" fill="#000">F</text>
<text transform="translate(54.58,1531.50) scale(0.9687,1)" font-size="78" font-weight="bold" fill="#000">G</text>
<text transform="translate(1006.61,1532.20) scale(0.9471,1)" font-size="78" font-weight="bold" fill="#000">H</text>
<text transform="translate(1627.78,1531.00) scale(1.1246,1)" font-size="78" font-weight="bold" fill="#000">I</text>
<text transform="translate(447.73,98.60) scale(1.0071,1)" font-size="66.3" font-weight="bold" fill="#000">Control</text>
<text transform="translate(1354.57,98.40) scale(1.0125,1)" font-size="66.3" font-weight="bold" fill="#000">Patient</text>
<text transform="translate(1394.49,179.80) scale(0.9688,1)" font-size="69.0" font-weight="bold" fill="#000">DAD</text>
<text transform="translate(2346.96,98.80) scale(1.0143,1)" font-size="66.3" font-weight="bold" fill="#000">Patient</text>
<text transform="translate(2043.30,179.10) scale(1.0058,1)" font-size="66.3" font-weight="bold" fill="#000">Paroxysmal cellular flutter</text>
<text transform="translate(515.84,815.00) scale(0.9649,1)" font-size="69.0" font-weight="bold" fill="#000">GC</text>
<text transform="translate(1295.54,815.00) scale(0.9635,1)" font-size="69.0" font-weight="bold" fill="#000">TRPM4 KO</text>
<text transform="translate(1394.82,895.30) scale(0.9618,1)" font-size="69.0" font-weight="bold" fill="#000">DAD</text>
<text transform="translate(2331.93,815.00) scale(0.9652,1)" font-size="69.0" font-weight="bold" fill="#000">TRPM4 KO</text>
<text transform="translate(2087.10,895.20) scale(1.0050,1)" font-size="66.3" font-weight="bold" fill="#000">Paroxysmal cellular flutter</text>
<text transform="translate(107.40,666.57) rotate(-90) scale(0.9058,1)" font-size="36.8" font-weight="bold" fill="#000">2</text>
<text transform="translate(107.40,644.69) rotate(-90) scale(1.0812,1)" font-size="36.8" font-weight="bold" fill="#000">0</text>
<text transform="translate(107.40,602.85) rotate(-90) scale(0.8981,1)" font-size="36.8" font-weight="bold" fill="#000">m</text>
<text transform="translate(107.40,561.45) rotate(-90) scale(0.9037,1)" font-size="36.8" font-weight="bold" fill="#000">V</text>
<text transform="translate(151.59,688.90) scale(1.1228,1)" font-size="30.8" font-weight="bold" fill="#000">2</text>
<text transform="translate(190.45,688.90) scale(1.1634,1)" font-size="30.8" font-weight="bold" fill="#000">s</text>
<text transform="translate(1047.40,660.07) rotate(-90) scale(0.9058,1)" font-size="36.8" font-weight="bold" fill="#000">2</text>
<text transform="translate(1047.40,638.19) rotate(-90) scale(1.0812,1)" font-size="36.8" font-weight="bold" fill="#000">0</text>
<text transform="translate(1047.40,596.35) rotate(-90) scale(0.8981,1)" font-size="36.8" font-weight="bold" fill="#000">m</text>
<text transform="translate(1047.40,554.95) rotate(-90) scale(0.9037,1)" font-size="36.8" font-weight="bold" fill="#000">V</text>
<text transform="translate(1091.59,679.30) scale(1.1228,1)" font-size="30.8" font-weight="bold" fill="#000">2</text>
<text transform="translate(1130.45,679.30) scale(1.1634,1)" font-size="30.8" font-weight="bold" fill="#000">s</text>
<text transform="translate(1986.60,626.17) rotate(-90) scale(0.9058,1)" font-size="36.8" font-weight="bold" fill="#000">2</text>
<text transform="translate(1986.60,604.29) rotate(-90) scale(1.0812,1)" font-size="36.8" font-weight="bold" fill="#000">0</text>
<text transform="translate(1986.60,562.45) rotate(-90) scale(0.8981,1)" font-size="36.8" font-weight="bold" fill="#000">m</text>
<text transform="translate(1986.60,521.05) rotate(-90) scale(0.9037,1)" font-size="36.8" font-weight="bold" fill="#000">V</text>
<text transform="translate(2004.71,653.50) scale(1.1025,1)" font-size="30.8" font-weight="bold" fill="#000">2</text>
<text transform="translate(2042.95,653.50) scale(1.1634,1)" font-size="30.8" font-weight="bold" fill="#000">s</text>
<text transform="translate(116.60,1387.37) rotate(-90) scale(0.9058,1)" font-size="36.8" font-weight="bold" fill="#000">2</text>
<text transform="translate(116.60,1365.49) rotate(-90) scale(1.0812,1)" font-size="36.8" font-weight="bold" fill="#000">0</text>
<text transform="translate(116.60,1323.65) rotate(-90) scale(0.8981,1)" font-size="36.8" font-weight="bold" fill="#000">m</text>
<text transform="translate(116.60,1282.25) rotate(-90) scale(0.9037,1)" font-size="36.8" font-weight="bold" fill="#000">V</text>
<text transform="translate(160.99,1407.50) scale(1.1228,1)" font-size="30.8" font-weight="bold" fill="#000">2</text>
<text transform="translate(199.89,1407.50) scale(1.1228,1)" font-size="30.8" font-weight="bold" fill="#000">s</text>
<text transform="translate(1047.40,1377.27) rotate(-90) scale(0.9058,1)" font-size="36.8" font-weight="bold" fill="#000">2</text>
<text transform="translate(1047.40,1355.39) rotate(-90) scale(1.0812,1)" font-size="36.8" font-weight="bold" fill="#000">0</text>
<text transform="translate(1047.40,1313.55) rotate(-90) scale(0.8981,1)" font-size="36.8" font-weight="bold" fill="#000">m</text>
<text transform="translate(1047.40,1272.15) rotate(-90) scale(0.9037,1)" font-size="36.8" font-weight="bold" fill="#000">V</text>
<text transform="translate(1091.59,1394.50) scale(1.1228,1)" font-size="30.8" font-weight="bold" fill="#000">2</text>
<text transform="translate(1130.45,1394.50) scale(1.1634,1)" font-size="30.8" font-weight="bold" fill="#000">s</text>
<text transform="translate(2026.60,1373.17) rotate(-90) scale(0.9058,1)" font-size="36.8" font-weight="bold" fill="#000">2</text>
<text transform="translate(2026.60,1351.29) rotate(-90) scale(1.0812,1)" font-size="36.8" font-weight="bold" fill="#000">0</text>
<text transform="translate(2026.60,1309.45) rotate(-90) scale(0.8981,1)" font-size="36.8" font-weight="bold" fill="#000">m</text>
<text transform="translate(2026.60,1268.05) rotate(-90) scale(0.9037,1)" font-size="36.8" font-weight="bold" fill="#000">V</text>
<text transform="translate(2049.19,1392.70) scale(1.1228,1)" font-size="30.8" font-weight="bold" fill="#000">2</text>
<text transform="translate(2088.19,1392.70) scale(1.1228,1)" font-size="30.8" font-weight="bold" fill="#000">s</text>
</svg>
</body></html>
